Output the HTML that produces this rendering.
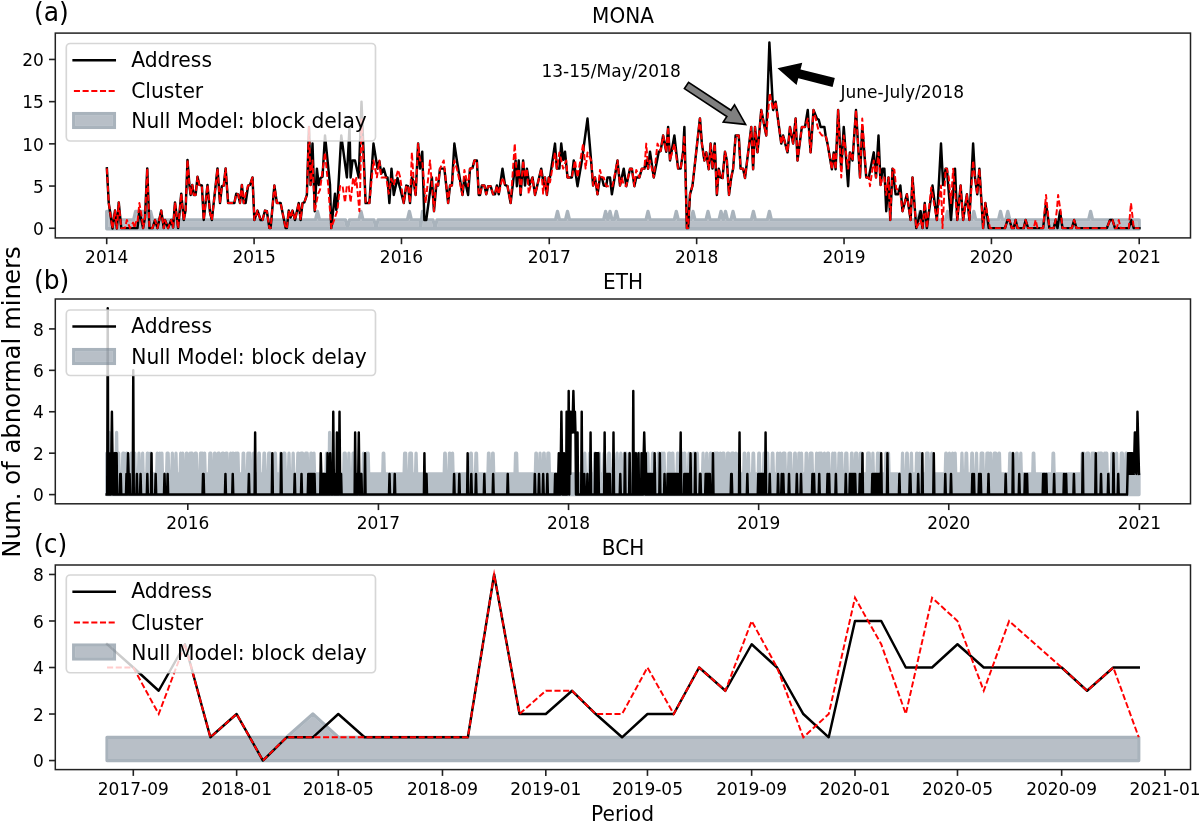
<!DOCTYPE html>
<html lang="en"><head><meta charset="utf-8"><title>Abnormal miners</title>
<style>html,body{margin:0;padding:0;background:#fff}svg{display:block}text{font-family:'DejaVu Sans','Liberation Sans',sans-serif;fill:#000}</style></head><body>
<svg width="1200" height="823" viewBox="0 0 1200 823">
<rect width="1200" height="823" fill="#fff"/>
<defs>
<clipPath id="ca"><rect x="55.3" y="33.1" width="1135.2" height="204.8"/></clipPath>
<clipPath id="cb"><rect x="55.3" y="299" width="1135.2" height="204.8"/></clipPath>
<clipPath id="cc"><rect x="55.3" y="565" width="1135.2" height="204.6"/></clipPath>
<filter id="soft" x="-2%" y="-20%" width="104%" height="140%"><feGaussianBlur stdDeviation="0.55"/></filter>
<filter id="softp" x="-20%" y="-30%" width="140%" height="160%"><feGaussianBlur stdDeviation="0.5"/></filter>
</defs>
<g id="panel-a">
<mask id="bm1" maskUnits="userSpaceOnUse" x="0" y="0" width="1200" height="823"><polygon points="106.7,228.75 106.7,211.37 110,211.37 112,219.81 133.6,219.81 135.6,211.37 150.6,211.37 152.6,219.81 315.5,219.81 317.5,211.37 319.5,219.81 345.5,219.81 347.5,228.25 349.5,219.81 359,219.81 361,211.37 363,219.81 374,219.81 376,228.25 378,219.81 407.4,219.81 409.4,211.37 411.4,219.81 418.6,219.81 420.5,219.81 420.6,228.25 422.5,211.37 422.6,219.81 424.5,219.81 433,219.81 435,228.25 437,219.81 555.5,219.81 557.5,211.37 559.5,219.81 565.5,219.81 567.5,211.37 569.5,219.81 603.6,219.81 605.6,211.37 607.6,219.81 608,219.81 610,211.37 612,219.81 614.3,219.81 616.3,211.37 618.3,219.81 646,219.81 648,211.37 650,219.81 674.3,219.81 676.3,211.37 678.3,219.81 691,219.81 693,211.37 695,219.81 706,219.81 708,211.37 710,219.81 719,219.81 721,211.37 723,219.81 723.5,219.81 725.5,211.37 727.5,219.81 731,219.81 733,211.37 735,219.81 751.4,219.81 753.4,211.37 755.4,219.81 767.4,219.81 769.4,211.37 771.4,219.81 918,219.81 920,211.37 922,219.81 945.5,219.81 947.5,211.37 949.5,219.81 971.8,219.81 973.8,211.37 975.8,219.81 998.5,219.81 1000.5,211.37 1002.5,219.81 1005.8,219.81 1007.8,211.37 1009.8,219.81 1088.6,219.81 1090.6,211.37 1092.6,219.81 1139.2,219.81 1139.2,228.75" fill="#fff" stroke="#000" stroke-width="3.28" stroke-linejoin="round"/></mask>
<g filter="url(#soft)"><polygon points="106.7,228.75 106.7,211.37 110,211.37 112,219.81 133.6,219.81 135.6,211.37 150.6,211.37 152.6,219.81 315.5,219.81 317.5,211.37 319.5,219.81 345.5,219.81 347.5,228.25 349.5,219.81 359,219.81 361,211.37 363,219.81 374,219.81 376,228.25 378,219.81 407.4,219.81 409.4,211.37 411.4,219.81 418.6,219.81 420.5,219.81 420.6,228.25 422.5,211.37 422.6,219.81 424.5,219.81 433,219.81 435,228.25 437,219.81 555.5,219.81 557.5,211.37 559.5,219.81 565.5,219.81 567.5,211.37 569.5,219.81 603.6,219.81 605.6,211.37 607.6,219.81 608,219.81 610,211.37 612,219.81 614.3,219.81 616.3,211.37 618.3,219.81 646,219.81 648,211.37 650,219.81 674.3,219.81 676.3,211.37 678.3,219.81 691,219.81 693,211.37 695,219.81 706,219.81 708,211.37 710,219.81 719,219.81 721,211.37 723,219.81 723.5,219.81 725.5,211.37 727.5,219.81 731,219.81 733,211.37 735,219.81 751.4,219.81 753.4,211.37 755.4,219.81 767.4,219.81 769.4,211.37 771.4,219.81 918,219.81 920,211.37 922,219.81 945.5,219.81 947.5,211.37 949.5,219.81 971.8,219.81 973.8,211.37 975.8,219.81 998.5,219.81 1000.5,211.37 1002.5,219.81 1005.8,219.81 1007.8,211.37 1009.8,219.81 1088.6,219.81 1090.6,211.37 1092.6,219.81 1139.2,219.81 1139.2,228.75" fill="#708090" fill-opacity="0.5" mask="url(#bm1)"/><polygon points="106.7,228.75 106.7,211.37 110,211.37 112,219.81 133.6,219.81 135.6,211.37 150.6,211.37 152.6,219.81 315.5,219.81 317.5,211.37 319.5,219.81 345.5,219.81 347.5,228.25 349.5,219.81 359,219.81 361,211.37 363,219.81 374,219.81 376,228.25 378,219.81 407.4,219.81 409.4,211.37 411.4,219.81 418.6,219.81 420.5,219.81 420.6,228.25 422.5,211.37 422.6,219.81 424.5,219.81 433,219.81 435,228.25 437,219.81 555.5,219.81 557.5,211.37 559.5,219.81 565.5,219.81 567.5,211.37 569.5,219.81 603.6,219.81 605.6,211.37 607.6,219.81 608,219.81 610,211.37 612,219.81 614.3,219.81 616.3,211.37 618.3,219.81 646,219.81 648,211.37 650,219.81 674.3,219.81 676.3,211.37 678.3,219.81 691,219.81 693,211.37 695,219.81 706,219.81 708,211.37 710,219.81 719,219.81 721,211.37 723,219.81 723.5,219.81 725.5,211.37 727.5,219.81 731,219.81 733,211.37 735,219.81 751.4,219.81 753.4,211.37 755.4,219.81 767.4,219.81 769.4,211.37 771.4,219.81 918,219.81 920,211.37 922,219.81 945.5,219.81 947.5,211.37 949.5,219.81 971.8,219.81 973.8,211.37 975.8,219.81 998.5,219.81 1000.5,211.37 1002.5,219.81 1005.8,219.81 1007.8,211.37 1009.8,219.81 1088.6,219.81 1090.6,211.37 1092.6,219.81 1139.2,219.81 1139.2,228.75" fill="none" stroke="#708090" stroke-opacity="0.6" stroke-width="3.28" stroke-linejoin="round"/></g>
<polyline clip-path="url(#ca)" points="106.88,168.39 108.75,203.08 112.5,228.5 115,210.59 116.88,228.5 118.75,202.45 121.25,228.12 137.5,228.12 139.38,210.59 143.12,228.12 145,217.48 147.25,168.39 149.38,228.12 152.5,228.12 155,219.99 157.5,228.12 161.25,210.59 163.75,228.12 165,219.99 168.12,228.12 171.25,219.99 173.12,227.5 175,202.45 178.12,228.12 181.25,193.69 183.75,219.99 185.62,209.97 187.5,159.88 189.38,184.92 190.62,194.94 192.25,184.92 193.75,194.94 195.62,194.94 197.5,176.78 199.38,184.92 201.88,185.55 203.75,219.99 207.5,184.92 210,212.47 211.88,219.99 217.5,168.39 220,203.08 221.88,186.18 223.75,185.55 225.62,168.39 228.12,203.08 234.38,203.08 236.25,193.69 238.12,194.31 240,203.08 241.88,184.92 243.75,203.08 245.62,203.08 248.12,185.55 249.88,184.92 250,184.92 252.5,177.41 254.38,219.99 257.5,210.59 260.62,219.99 262.5,219.99 265,210.59 266.88,211.22 269.38,228.12 270.62,228.12 274.38,185.55 276.88,203.08 280.62,203.08 285.62,228.12 286.88,228.12 288.75,210.59 290.62,217.48 292.5,210.59 295,219.99 298.75,203.08 300.62,219.99 302.5,203.08 304.38,202.45 306.88,194.94 309,126.94 310.62,184.92 312.5,143.6 314.75,211.22 316.88,168.64 318.75,184.92 320.62,178.04 322.5,176.78 325,135.46 330,184.92 331.25,228.12 335,193.69 336.25,209.97 337.5,202.45 341.25,135.46 346.88,177.41 349.5,126.94 350.62,177.41 352.5,160.5 355,160.5 358.75,177.41 361.5,101.65 365.62,203.08 369.38,203.08 373.5,143.6 377.5,168.64 379.38,161.13 381.25,173.65 383.75,168.64 386.25,177.41 387.5,177.41 389.38,203.08 391.5,168.64 393.75,194.94 397.5,178.04 399.88,187.43 400,187.43 403.75,203.08 406.25,185.55 408.12,186.18 410,203.08 411.88,177.41 413.75,182.42 415.62,194.94 418.12,143.6 420,168.64 422.25,151.74 424.38,219.99 426.25,219.99 431.88,177.41 434,211.22 436.25,185.55 438.12,185.55 440,168.64 444.38,168.64 448.12,203.08 450,185.55 451.88,185.55 454.38,143.6 456.88,160.5 462.5,194.94 464.38,178.04 468.12,194.94 470,168.64 472.5,168.02 474.38,160.5 476.88,160.5 478.75,194.94 480,194.94 481.88,185.55 484.38,185.55 486.25,194.31 488.12,186.18 490.62,186.18 493.12,194.31 495,194.31 496.88,185.55 498.75,194.31 502.5,168.64 505,184.92 507.5,186.18 510.62,203.08 515.62,160.5 516.88,186.18 518.75,160.5 520.62,194.94 523.12,160.5 525,185.55 526.88,168.64 529.38,184.92 532.5,177.41 535,194.94 541.25,168.64 543.75,184.92 545,177.41 546.88,194.94 548.75,177.41 549.88,177.41 550,177.41 555,143.6 556.88,168.64 559.38,168.64 561.25,143.6 563.12,159.88 565,151.74 567.5,177.41 571.88,177.41 573.75,160.5 577.5,186.18 581.88,160.5 587.5,118.56 590,147.36 593.12,185.55 595,177.41 597.5,194.31 600,177.41 601.88,177.41 603.75,185.55 606.25,186.18 607.5,177.41 610,177.41 611.88,194.31 617.5,160.5 620,185.55 623.75,168.64 626.25,186.18 630,168.64 631.88,168.64 634.38,186.18 636.25,177.41 639.38,177.41 641.88,168.64 644.38,168.64 646.25,160.5 648.12,168.64 650,151.74 653.75,177.41 658.75,151.74 660.62,151.11 663.12,135.46 666.25,151.74 668.12,126.94 670,160.5 674.38,135.46 678.12,168.64 680.62,168.64 683.12,151.74 684.38,126.94 686.88,228.12 688.12,228.12 690,194.31 692.5,185.55 699.88,118.56 700,118.56 701.88,143.6 704.38,160.5 706.25,152.37 708.75,169.27 710.62,143.6 712.5,168.64 714.75,143.6 716.88,194.94 718.75,168.64 720.62,177.41 722.5,178.04 725,151.74 726.88,160.5 729,194.94 731.25,177.41 733.12,168.64 735.62,135.46 738.75,135.46 740.62,168.64 743.12,168.64 745,178.04 751.25,126.94 753.12,169.27 755,126.94 757.5,152.37 761.25,110.04 766.25,135.46 769.38,42.54 773.12,110.04 775.62,101.65 781.25,143.6 783.12,135.46 787.5,152.37 790,126.94 793.12,143.6 795.62,118.56 797.5,160.5 801.88,126.94 805,126.94 807.75,110.04 810.62,152.37 813.5,110.04 816.88,118.56 818.75,119.81 820.62,126.94 824.38,126.94 825.62,135.46 827.5,143.6 831.88,169.27 833.75,152.37 835.62,169.27 838.12,110.04 841.25,168.64 843.75,126.94 848.12,186.18 849.88,152.37 850,152.37 852.5,160.5 856,110.04 860,177.41 862.25,126.94 866.25,177.41 868.75,177.41 873.75,152.37 876,177.41 878.5,135.46 880.62,184.92 882.5,168.64 884.38,168.64 886.25,211.22 888.5,177.41 890.25,219.99 892.5,168.64 895.62,194.31 898.12,194.31 900.38,185.55 902.5,211.22 906.88,194.31 910.62,219.99 912.5,177.41 916.25,228.12 920.62,211.22 922.5,228.12 924.75,203.08 926.88,228.12 932.5,185.55 936.88,219.99 941,143.6 943.12,184.92 945.62,168.64 946.88,168.64 951,219.99 955,168.64 957.25,219.99 960.62,185.55 963.12,219.99 966.88,194.31 969.38,219.99 973.12,143.6 975,177.41 977.25,194.31 979.38,168.64 983.12,228.12 985.38,203.08 988.75,228.12 999.88,228.12 1000,228.12 1005,228.12 1007.5,219.99 1009.38,219.99 1011.88,228.12 1013.75,228.12 1015.62,219.99 1017.5,228.12 1023.75,228.12 1025.62,219.99 1028.12,228.12 1043.12,228.12 1046,203.08 1049.38,228.12 1053.75,228.12 1055.62,219.99 1057.5,228.12 1060,211.22 1062.5,228.12 1071.88,228.12 1074.12,219.99 1076.5,228.12 1106.88,228.12 1110,219.99 1112.5,219.99 1115,228.12 1128.75,228.12 1131.25,219.99 1133.75,228.12 1139.38,228.12" fill="none" stroke="#000" stroke-width="2.46" stroke-linejoin="round" stroke-linecap="square"/>
<polyline clip-path="url(#ca)" points="106.88,168.39 108.75,203.08 112.5,228.5 115,210.59 116.88,228.5 118.75,202.45 121.25,228.12 125,228.12 126.88,219.99 130,228.12 133.12,222.49 134.38,228.12 136.25,221.24 137.5,222.49 139.38,203.08 141.88,217.48 143.12,228.12 145,217.48 147.25,168.39 149.38,228.12 152.5,228.12 155,219.99 157.5,228.12 161.25,210.59 163.75,228.12 165,219.99 168.12,228.12 171.25,219.99 173.12,227.5 175,202.45 178.12,228.12 181.25,193.69 183.75,219.99 185.62,209.97 187.5,159.88 189.38,184.92 190.62,194.94 192.25,184.92 193.75,194.94 195.62,194.94 197.5,176.78 199.38,184.92 201.88,185.55 203.75,219.99 207.5,184.92 210,212.47 211.88,219.99 217.5,168.39 220,203.08 221.88,186.18 223.75,185.55 225.62,168.39 228.12,203.08 234.38,203.08 236.25,193.69 238.12,194.31 240,203.08 241.88,184.92 243.75,203.08 245.62,193.69 248.12,185.55 249.88,184.92 250,184.92 252.5,177.41 254.38,219.99 257.5,210.59 260.62,219.99 262.5,219.99 265,210.59 266.88,211.22 269.38,228.12 270.62,228.12 274.38,185.55 276.88,203.08 280.62,203.08 285.62,228.12 286.88,228.12 288.75,210.59 290.62,217.48 292.5,210.59 295,219.99 298.75,203.08 300.62,219.99 302.5,203.08 304.38,202.45 306.88,194.94 309,126.94 310.62,184.92 312.5,160.5 314.75,211.22 318.12,193.69 320,189.93 325,152.37 328.12,184.92 331.25,228.12 335,217.48 337.5,209.97 340,186.18 342.5,185.55 345,202.45 346.88,185.55 348.75,186.18 350.62,202.45 353.12,177.41 355,184.92 356.25,178.04 357.5,191.18 359.38,211.22 360.25,184.92 361.5,118.56 365.62,203.08 369.38,203.08 373.5,160.5 376.88,177.41 379.38,160.5 381.25,177.41 384.38,177.41 386.25,177.41 388.75,193.69 391.25,178.66 393.75,184.92 398.12,169.9 399.88,176.16 400,176.16 403.75,203.08 406.25,185.55 408.12,186.18 410,203.08 411.88,152.37 413.75,182.42 415.62,194.94 418.12,143.6 420,160.5 422.25,160.5 425.62,203.08 430,160.5 434,211.22 436.25,177.41 438.12,185.55 440,168.64 443.75,160.5 448.12,203.08 450,185.55 451.88,185.55 454.38,160.5 456.88,168.64 462.5,194.94 464.38,169.9 468.12,186.18 470,168.64 472.5,168.02 474.38,160.5 476.88,160.5 478.75,194.94 480,194.94 481.88,185.55 484.38,185.55 486.25,194.31 488.12,186.18 490.62,186.18 493.12,194.31 495,194.31 496.88,185.55 498.75,194.31 502.5,177.41 505,184.92 507.5,186.18 510.62,203.08 514.75,143.6 516.88,177.41 518.75,168.64 520.62,194.94 523.12,160.5 525,177.41 526.88,168.64 528.75,193.69 532.5,177.41 535,194.94 541.25,168.64 543.12,193.69 545,177.41 546.88,194.94 548.75,177.41 549.88,182.42 550,182.42 555,152.37 556.88,168.64 559.38,152.37 561.25,160.5 563.12,168.64 566.25,160.5 567.5,177.41 571.88,177.41 575,160.5 577.5,177.41 583.12,143.6 585.62,168.64 587.5,152.37 591.25,160.5 593.12,185.55 595,177.41 597.5,194.31 600,169.9 601.88,177.41 603.75,177.41 606.25,186.18 610,186.18 612.5,186.18 617.5,160.5 620,185.55 621.88,177.41 623.75,184.92 626.25,186.18 630,168.64 631.88,168.64 634.38,186.18 636.25,169.9 639.38,177.41 641.88,168.64 644.38,168.64 646.25,143.6 648.12,168.64 650,160.5 653.75,177.41 657.5,143.6 660.62,151.11 663.12,135.46 666.25,151.74 668.12,126.94 670,160.5 674.38,143.6 678.12,168.64 680.62,168.64 683.12,151.74 684.38,135.46 686.88,228.12 688.12,228.12 690,194.31 692.5,185.55 699.88,118.56 700,118.56 701.88,143.6 704.38,160.5 706.25,152.37 708.75,169.27 710.62,143.6 712.5,168.64 714.75,143.6 716.88,194.94 718.75,168.64 720.62,177.41 722.5,178.04 725,151.74 726.88,160.5 729,194.94 731.25,177.41 733.12,168.64 735.62,135.46 738.75,135.46 740.62,168.64 743.12,168.64 745,178.04 751.25,126.94 753.12,169.27 755,126.94 757.5,152.37 761.25,110.04 766.25,135.46 769.75,93.26 773.12,110.04 775.62,101.65 781.25,143.6 783.12,135.46 787.5,152.37 790,126.94 793.12,143.6 795.62,118.56 797.5,160.5 801.88,126.94 805,126.94 807.75,118.56 810.62,152.37 813.5,110.04 818.75,131.08 821.88,135.46 825.62,135.46 827.5,143.6 831.88,169.27 833.75,152.37 835.62,169.27 838.12,110.04 841.25,177.41 843.75,135.46 848.12,168.64 849.88,152.37 850,152.37 852.5,160.5 856,110.04 860,177.41 862.25,118.56 866.25,177.41 868.75,177.41 870,186.18 873.75,160.5 876,177.41 878.5,152.37 880.62,184.92 882.5,177.41 884.38,177.41 886.25,194.94 888.5,177.41 890.25,219.99 892.5,168.64 894.38,169.9 896.25,188.68 898.12,189.93 900.38,193.69 902.5,211.22 906.88,194.31 910.62,219.99 912.5,177.41 916.25,228.12 920.62,219.99 922.5,228.12 924.75,203.08 926.88,228.12 931.25,187.43 936.88,219.99 941,185.55 942.5,228.12 945.62,168.64 946.88,168.64 948.75,177.41 951,203.08 953.12,168.64 957.25,219.99 960.62,185.55 963.12,219.99 966.88,194.31 969.38,219.99 973.12,160.5 975,177.41 977.25,194.31 979.38,168.64 983.12,228.12 985.38,203.08 990,228.12 999.88,228.12 1000,228.12 1005,228.12 1007.5,219.99 1009.38,219.99 1011.88,228.12 1013.75,228.12 1015.62,219.99 1017.5,228.12 1023.75,228.12 1025.62,219.99 1028.12,228.12 1033.75,228.12 1035.62,219.99 1037.5,228.12 1043.12,228.12 1046,194.94 1049.38,228.12 1053.75,228.12 1055.62,219.99 1056.88,209.97 1058.12,194.94 1060.62,211.22 1062.5,228.12 1071.88,228.12 1074.12,219.99 1076.5,228.12 1106.88,228.12 1110,219.99 1112.5,219.99 1115,228.12 1116.88,228.12 1118.75,219.99 1120.62,228.12 1128.75,228.12 1131,203.08 1133.75,228.12 1139.38,228.12" fill="none" stroke="#f00" stroke-width="1.95" stroke-linejoin="round" stroke-miterlimit="6" stroke-dasharray="6.07 2.62"/>
<rect x="55.3" y="33.1" width="1135.2" height="204.8" fill="none" stroke="#222" stroke-width="1.5"/>
<line x1="106.7" y1="237.9" x2="106.7" y2="244.2" stroke="#222" stroke-width="1.6"/>
<text transform="translate(106.7 262.9) scale(1 1.05)" text-anchor="middle" font-size="17">2014</text>
<line x1="254.09" y1="237.9" x2="254.09" y2="244.2" stroke="#222" stroke-width="1.6"/>
<text transform="translate(254.09 262.9) scale(1 1.05)" text-anchor="middle" font-size="17">2015</text>
<line x1="401.47" y1="237.9" x2="401.47" y2="244.2" stroke="#222" stroke-width="1.6"/>
<text transform="translate(401.47 262.9) scale(1 1.05)" text-anchor="middle" font-size="17">2016</text>
<line x1="549.26" y1="237.9" x2="549.26" y2="244.2" stroke="#222" stroke-width="1.6"/>
<text transform="translate(549.26 262.9) scale(1 1.05)" text-anchor="middle" font-size="17">2017</text>
<line x1="696.65" y1="237.9" x2="696.65" y2="244.2" stroke="#222" stroke-width="1.6"/>
<text transform="translate(696.65 262.9) scale(1 1.05)" text-anchor="middle" font-size="17">2018</text>
<line x1="844.04" y1="237.9" x2="844.04" y2="244.2" stroke="#222" stroke-width="1.6"/>
<text transform="translate(844.04 262.9) scale(1 1.05)" text-anchor="middle" font-size="17">2019</text>
<line x1="991.43" y1="237.9" x2="991.43" y2="244.2" stroke="#222" stroke-width="1.6"/>
<text transform="translate(991.43 262.9) scale(1 1.05)" text-anchor="middle" font-size="17">2020</text>
<line x1="1139.22" y1="237.9" x2="1139.22" y2="244.2" stroke="#222" stroke-width="1.6"/>
<text transform="translate(1139.22 262.9) scale(1 1.05)" text-anchor="middle" font-size="17">2021</text>
<line x1="49" y1="228.25" x2="55.3" y2="228.25" stroke="#222" stroke-width="1.6"/>
<text transform="translate(43.8 234.95) scale(1 1.05)" text-anchor="end" font-size="17">0</text>
<line x1="49" y1="186.05" x2="55.3" y2="186.05" stroke="#222" stroke-width="1.6"/>
<text transform="translate(43.8 192.75) scale(1 1.05)" text-anchor="end" font-size="17">5</text>
<line x1="49" y1="143.85" x2="55.3" y2="143.85" stroke="#222" stroke-width="1.6"/>
<text transform="translate(43.8 150.55) scale(1 1.05)" text-anchor="end" font-size="17">10</text>
<line x1="49" y1="101.65" x2="55.3" y2="101.65" stroke="#222" stroke-width="1.6"/>
<text transform="translate(43.8 108.35) scale(1 1.05)" text-anchor="end" font-size="17">15</text>
<line x1="49" y1="59.45" x2="55.3" y2="59.45" stroke="#222" stroke-width="1.6"/>
<text transform="translate(43.8 66.15) scale(1 1.05)" text-anchor="end" font-size="17">20</text>
<text transform="translate(623 23) scale(1 1.03)" text-anchor="middle" font-size="20.05">MONA</text>
<text transform="translate(34 21.2) scale(1 1.03)" font-size="25">(a)</text>
<rect x="66.3" y="43.5" width="309.2" height="97.5" rx="3.9" ry="3.9" fill="#fff" fill-opacity="0.8" stroke="#ccc" stroke-opacity="0.8" stroke-width="1.64"/>
<line x1="73.6" y1="60.2" x2="114.8" y2="60.2" stroke="#000" stroke-width="2.46" stroke-linecap="square"/>
<text transform="translate(131.2 66.9) scale(1 1.03)" font-size="20.3">Address</text>
<line x1="73.9" y1="90.9" x2="114.8" y2="90.9" stroke="#f00" stroke-width="1.95" stroke-dasharray="6.07 2.62"/>
<text transform="translate(131.2 98) scale(1 1.03)" font-size="20.3">Cluster</text>
<g filter="url(#softp)"><rect x="75.34" y="115.24" width="37.42" height="10.52" fill="#708090" fill-opacity="0.5"/><rect x="73.7" y="113.6" width="40.7" height="13.8" fill="none" stroke="#708090" stroke-opacity="0.6" stroke-width="3.28"/></g>
<text transform="translate(131.2 128.2) scale(1 1.03)" font-size="20.3">Null Model: block delay</text>
<text transform="translate(541.5 76.9) scale(1 1.05)" font-size="17">13-15/May/2018</text>
<text transform="translate(840.4 97.6) scale(1 1.05)" font-size="17">June-July/2018</text>
<polygon points="684.44,88.63 726.83,116.54 723.26,121.97 745.6,124.4 734.53,104.84 730.96,110.27 688.56,82.37" fill="#808080" stroke="#000" stroke-width="1.64" stroke-linejoin="miter"/>
<polygon points="833.81,78.66 799.51,70.04 801.1,63.74 779.2,68.8 796.1,83.62 797.68,77.31 831.99,85.94" fill="#000" stroke="#000" stroke-width="1.64" stroke-linejoin="miter"/>
</g>
<g id="panel-b">
<g opacity="0.5" filter="url(#soft)"><polygon points="106.7,494.6 106.7,453.18 107.22,453.18 107.74,473.89 108.26,473.89 108.78,473.89 109.3,432.47 109.83,473.89 110.35,473.89 110.87,453.18 111.39,453.18 111.91,473.89 112.43,473.89 112.95,473.89 113.47,473.89 113.99,453.18 114.51,473.89 115.03,473.89 115.55,473.89 116.08,473.89 116.6,432.47 117.12,473.89 117.64,473.89 118.16,473.89 118.68,453.18 119.2,473.89 119.72,473.89 120.24,473.89 120.76,473.89 121.28,473.89 121.8,473.89 122.33,473.89 122.85,453.18 123.37,453.18 123.89,453.18 124.41,473.89 124.93,473.89 125.45,473.89 125.97,473.89 126.49,453.18 127.01,453.18 127.53,453.18 128.05,473.89 128.58,473.89 129.1,473.89 129.62,473.89 130.14,473.89 130.66,473.89 131.18,453.18 131.7,473.89 132.22,473.89 132.74,473.89 133.26,473.89 133.78,473.89 134.31,453.18 134.83,453.18 135.35,473.89 135.87,473.89 136.39,473.89 136.91,473.89 137.43,473.89 137.95,473.89 138.47,473.89 138.99,453.18 139.51,473.89 140.03,473.89 140.56,473.89 141.08,473.89 141.6,473.89 142.12,473.89 142.64,453.18 143.16,473.89 143.68,473.89 144.2,473.89 144.72,473.89 145.24,473.89 145.76,473.89 146.28,473.89 146.81,473.89 147.33,453.18 147.85,453.18 148.37,473.89 148.89,473.89 149.41,473.89 149.93,473.89 150.45,453.18 150.97,453.18 151.49,473.89 152.01,473.89 152.53,473.89 153.06,473.89 153.58,473.89 154.1,473.89 154.62,473.89 155.14,473.89 155.66,473.89 156.18,473.89 156.7,473.89 157.22,453.18 157.74,473.89 158.26,473.89 158.78,473.89 159.31,473.89 159.83,453.18 160.35,473.89 160.87,473.89 161.39,473.89 161.91,453.18 162.43,473.89 162.95,473.89 163.47,473.89 163.99,473.89 164.51,473.89 165.04,473.89 165.56,473.89 166.08,473.89 166.6,473.89 167.12,453.18 167.64,453.18 168.16,453.18 168.68,473.89 169.2,473.89 169.72,473.89 170.24,473.89 170.76,473.89 171.29,473.89 171.81,473.89 172.33,453.18 172.85,473.89 173.37,473.89 173.89,473.89 174.41,473.89 174.93,473.89 175.45,473.89 175.97,453.18 176.49,473.89 177.01,473.89 177.54,473.89 178.06,473.89 178.58,473.89 179.1,473.89 179.62,473.89 180.14,473.89 180.66,453.18 181.18,473.89 181.7,473.89 182.22,473.89 182.74,453.18 183.26,473.89 183.79,473.89 184.31,473.89 184.83,473.89 185.35,473.89 185.87,473.89 186.39,453.18 186.91,453.18 187.43,473.89 187.95,473.89 188.47,473.89 188.99,473.89 189.52,473.89 190.04,453.18 190.56,473.89 191.08,453.18 191.6,453.18 192.12,453.18 192.64,473.89 193.16,473.89 193.68,473.89 194.2,473.89 194.72,473.89 195.24,453.18 195.77,453.18 196.29,453.18 196.81,473.89 197.33,473.89 197.85,473.89 198.37,473.89 198.89,473.89 199.41,473.89 199.93,473.89 200.45,453.18 200.97,453.18 201.49,453.18 202.02,473.89 202.54,453.18 203.06,473.89 203.58,473.89 204.1,473.89 204.62,453.18 205.14,473.89 205.66,473.89 206.18,473.89 206.7,473.89 207.22,473.89 207.74,473.89 208.27,473.89 208.79,473.89 209.31,473.89 209.83,453.18 210.35,453.18 210.87,453.18 211.39,473.89 211.91,473.89 212.43,473.89 212.95,473.89 213.47,473.89 214,473.89 214.52,453.18 215.04,453.18 215.56,473.89 216.08,473.89 216.6,473.89 217.12,473.89 217.64,473.89 218.16,453.18 218.68,453.18 219.2,453.18 219.72,473.89 220.25,473.89 220.77,473.89 221.29,473.89 221.81,473.89 222.33,453.18 222.85,453.18 223.37,453.18 223.89,473.89 224.41,473.89 224.93,473.89 225.45,473.89 225.97,453.18 226.5,453.18 227.02,453.18 227.54,473.89 228.06,473.89 228.58,473.89 229.1,473.89 229.62,473.89 230.14,473.89 230.66,453.18 231.18,473.89 231.7,473.89 232.22,473.89 232.75,453.18 233.27,453.18 233.79,473.89 234.31,473.89 234.83,473.89 235.35,473.89 235.87,453.18 236.39,473.89 236.91,473.89 237.43,453.18 237.95,453.18 238.48,473.89 239,473.89 239.52,473.89 240.04,473.89 240.56,473.89 241.08,473.89 241.6,473.89 242.12,473.89 242.64,473.89 243.16,453.18 243.68,453.18 244.2,473.89 244.73,473.89 245.25,473.89 245.77,473.89 246.29,473.89 246.81,473.89 247.33,473.89 247.85,453.18 248.37,453.18 248.89,473.89 249.41,473.89 249.93,453.18 250.45,473.89 250.98,473.89 251.5,473.89 252.02,473.89 252.54,473.89 253.06,473.89 253.58,453.18 254.1,473.89 254.62,473.89 255.14,473.89 255.66,473.89 256.18,473.89 256.7,473.89 257.23,473.89 257.75,473.89 258.27,473.89 258.79,453.18 259.31,453.18 259.83,473.89 260.35,473.89 260.87,473.89 261.39,473.89 261.91,473.89 262.43,473.89 262.96,473.89 263.48,473.89 264,453.18 264.52,453.18 265.04,473.89 265.56,473.89 266.08,473.89 266.6,473.89 267.12,473.89 267.64,473.89 268.16,473.89 268.68,453.18 269.21,453.18 269.73,453.18 270.25,453.18 270.77,473.89 271.29,473.89 271.81,473.89 272.33,473.89 272.85,473.89 273.37,473.89 273.89,473.89 274.41,473.89 274.93,453.18 275.46,453.18 275.98,473.89 276.5,473.89 277.02,473.89 277.54,473.89 278.06,473.89 278.58,473.89 279.1,473.89 279.62,473.89 280.14,473.89 280.66,453.18 281.18,473.89 281.71,473.89 282.23,473.89 282.75,473.89 283.27,473.89 283.79,453.18 284.31,453.18 284.83,453.18 285.35,473.89 285.87,473.89 286.39,473.89 286.91,473.89 287.43,473.89 287.96,473.89 288.48,473.89 289,453.18 289.52,473.89 290.04,473.89 290.56,473.89 291.08,473.89 291.6,473.89 292.12,473.89 292.64,473.89 293.16,453.18 293.69,473.89 294.21,473.89 294.73,473.89 295.25,473.89 295.77,473.89 296.29,473.89 296.81,473.89 297.33,473.89 297.85,453.18 298.37,453.18 298.89,473.89 299.41,473.89 299.94,473.89 300.46,473.89 300.98,453.18 301.5,453.18 302.02,453.18 302.54,453.18 303.06,473.89 303.58,473.89 304.1,473.89 304.62,473.89 305.14,473.89 305.66,453.18 306.19,453.18 306.71,453.18 307.23,453.18 307.75,473.89 308.27,473.89 308.79,473.89 309.31,473.89 309.83,473.89 310.35,473.89 310.87,453.18 311.39,453.18 311.91,473.89 312.44,473.89 312.96,473.89 313.48,473.89 314,453.18 314.52,473.89 315.04,473.89 315.56,473.89 316.08,473.89 316.6,473.89 317.12,473.89 317.64,473.89 318.17,473.89 318.69,473.89 319.21,473.89 319.73,473.89 320.25,473.89 320.77,473.89 321.29,473.89 321.81,473.89 322.33,473.89 322.85,473.89 323.37,473.89 323.89,473.89 324.42,473.89 324.94,473.89 325.46,473.89 325.98,473.89 326.5,453.18 327.02,453.18 327.54,453.18 328.06,453.18 328.58,473.89 329.1,473.89 329.62,432.47 330.14,473.89 330.67,473.89 331.19,453.18 331.71,473.89 332.23,473.89 332.75,473.89 333.27,473.89 333.79,473.89 334.31,473.89 334.83,473.89 335.35,473.89 335.87,473.89 336.39,473.89 336.92,473.89 337.44,473.89 337.96,473.89 338.48,473.89 339,473.89 339.52,473.89 340.04,473.89 340.56,473.89 341.08,473.89 341.6,473.89 342.12,473.89 342.65,473.89 343.17,473.89 343.69,473.89 344.21,453.18 344.73,453.18 345.25,453.18 345.77,473.89 346.29,473.89 346.81,473.89 347.33,473.89 347.85,473.89 348.37,473.89 348.9,453.18 349.42,473.89 349.94,473.89 350.46,473.89 350.98,473.89 351.5,473.89 352.02,473.89 352.54,473.89 353.06,453.18 353.58,453.18 354.1,453.18 354.62,473.89 355.15,473.89 355.67,473.89 356.19,473.89 356.71,473.89 357.23,473.89 357.75,473.89 358.27,473.89 358.79,473.89 359.31,473.89 359.83,473.89 360.35,473.89 360.87,473.89 361.4,473.89 361.92,473.89 362.44,473.89 362.96,473.89 363.48,453.18 364,473.89 364.52,473.89 365.04,473.89 365.56,473.89 366.08,473.89 366.6,453.18 367.12,453.18 367.65,473.89 368.17,453.18 368.69,473.89 369.21,473.89 369.73,473.89 370.25,473.89 370.77,473.89 371.29,473.89 371.81,473.89 372.33,473.89 372.85,473.89 373.38,473.89 373.9,473.89 374.42,473.89 374.94,473.89 375.46,473.89 375.98,473.89 376.5,473.89 377.02,473.89 377.54,473.89 378.06,473.89 378.58,473.89 379.1,473.89 379.63,473.89 380.15,473.89 380.67,473.89 381.19,473.89 381.71,473.89 382.23,473.89 382.75,473.89 383.27,453.18 383.79,453.18 384.31,473.89 384.83,473.89 385.35,473.89 385.88,473.89 386.4,473.89 386.92,473.89 387.44,473.89 387.96,473.89 388.48,473.89 389,473.89 389.52,473.89 390.04,473.89 390.56,473.89 391.08,473.89 391.6,473.89 392.13,473.89 392.65,473.89 393.17,473.89 393.69,473.89 394.21,473.89 394.73,473.89 395.25,473.89 395.77,473.89 396.29,473.89 396.81,473.89 397.33,473.89 397.86,473.89 398.38,473.89 398.9,473.89 399.42,473.89 399.94,473.89 400.46,473.89 400.98,473.89 401.5,473.89 402.02,473.89 402.54,473.89 403.06,473.89 403.58,473.89 404.11,473.89 404.63,453.18 405.15,473.89 405.67,453.18 406.19,473.89 406.71,473.89 407.23,473.89 407.75,473.89 408.27,473.89 408.79,473.89 409.31,473.89 409.83,453.18 410.36,453.18 410.88,453.18 411.4,453.18 411.92,473.89 412.44,473.89 412.96,473.89 413.48,473.89 414,473.89 414.52,473.89 415.04,473.89 415.56,473.89 416.08,453.18 416.61,473.89 417.13,473.89 417.65,473.89 418.17,473.89 418.69,473.89 419.21,473.89 419.73,473.89 420.25,473.89 420.77,473.89 421.29,473.89 421.81,473.89 422.34,473.89 422.86,473.89 423.38,473.89 423.9,473.89 424.42,473.89 424.94,473.89 425.46,473.89 425.98,473.89 426.5,473.89 427.02,473.89 427.54,473.89 428.06,473.89 428.59,473.89 429.11,473.89 429.63,473.89 430.15,473.89 430.67,473.89 431.19,473.89 431.71,473.89 432.23,473.89 432.75,473.89 433.27,473.89 433.79,473.89 434.31,473.89 434.84,473.89 435.36,473.89 435.88,473.89 436.4,473.89 436.92,473.89 437.44,473.89 437.96,473.89 438.48,473.89 439,473.89 439.52,473.89 440.04,473.89 440.56,473.89 441.09,473.89 441.61,473.89 442.13,473.89 442.65,473.89 443.17,473.89 443.69,473.89 444.21,473.89 444.73,453.18 445.25,453.18 445.77,473.89 446.29,473.89 446.82,473.89 447.34,473.89 447.86,473.89 448.38,473.89 448.9,473.89 449.42,453.18 449.94,453.18 450.46,473.89 450.98,473.89 451.5,473.89 452.02,473.89 452.54,453.18 453.07,473.89 453.59,473.89 454.11,473.89 454.63,473.89 455.15,473.89 455.67,473.89 456.19,473.89 456.71,473.89 457.23,473.89 457.75,473.89 458.27,473.89 458.79,473.89 459.32,473.89 459.84,473.89 460.36,473.89 460.88,473.89 461.4,473.89 461.92,473.89 462.44,473.89 462.96,473.89 463.48,473.89 464,473.89 464.52,473.89 465.04,473.89 465.57,473.89 466.09,473.89 466.61,473.89 467.13,473.89 467.65,473.89 468.17,473.89 468.69,473.89 469.21,473.89 469.73,473.89 470.25,473.89 470.77,453.18 471.3,453.18 471.82,473.89 472.34,473.89 472.86,473.89 473.38,473.89 473.9,473.89 474.42,473.89 474.94,473.89 475.46,473.89 475.98,453.18 476.5,453.18 477.02,473.89 477.55,473.89 478.07,473.89 478.59,473.89 479.11,473.89 479.63,473.89 480.15,473.89 480.67,473.89 481.19,473.89 481.71,473.89 482.23,473.89 482.75,473.89 483.27,473.89 483.8,473.89 484.32,473.89 484.84,473.89 485.36,473.89 485.88,473.89 486.4,473.89 486.92,473.89 487.44,473.89 487.96,473.89 488.48,453.18 489,453.18 489.52,473.89 490.05,473.89 490.57,473.89 491.09,473.89 491.61,473.89 492.13,473.89 492.65,453.18 493.17,453.18 493.69,473.89 494.21,473.89 494.73,473.89 495.25,473.89 495.77,473.89 496.3,473.89 496.82,473.89 497.34,473.89 497.86,473.89 498.38,473.89 498.9,473.89 499.42,473.89 499.94,473.89 500.46,473.89 500.98,473.89 501.5,473.89 502.03,473.89 502.55,473.89 503.07,473.89 503.59,473.89 504.11,473.89 504.63,473.89 505.15,473.89 505.67,473.89 506.19,473.89 506.71,473.89 507.23,473.89 507.75,473.89 508.28,473.89 508.8,473.89 509.32,473.89 509.84,473.89 510.36,473.89 510.88,473.89 511.4,473.89 511.92,473.89 512.44,473.89 512.96,473.89 513.48,473.89 514,473.89 514.53,473.89 515.05,473.89 515.57,453.18 516.09,453.18 516.61,453.18 517.13,473.89 517.65,473.89 518.17,473.89 518.69,473.89 519.21,473.89 519.73,473.89 520.25,473.89 520.78,473.89 521.3,473.89 521.82,473.89 522.34,473.89 522.86,473.89 523.38,473.89 523.9,473.89 524.42,473.89 524.94,473.89 525.46,473.89 525.98,473.89 526.51,473.89 527.03,473.89 527.55,473.89 528.07,473.89 528.59,473.89 529.11,473.89 529.63,473.89 530.15,473.89 530.67,473.89 531.19,473.89 531.71,473.89 532.23,473.89 532.76,473.89 533.28,473.89 533.8,473.89 534.32,473.89 534.84,473.89 535.36,473.89 535.88,453.18 536.4,453.18 536.92,473.89 537.44,473.89 537.96,473.89 538.48,473.89 539.01,473.89 539.53,473.89 540.05,453.18 540.57,473.89 541.09,473.89 541.61,473.89 542.13,473.89 542.65,473.89 543.17,473.89 543.69,453.18 544.21,453.18 544.73,473.89 545.26,473.89 545.78,473.89 546.3,473.89 546.82,473.89 547.34,473.89 547.86,453.18 548.38,453.18 548.9,453.18 549.42,473.89 549.94,473.89 550.46,473.89 550.99,473.89 551.51,473.89 552.03,473.89 552.55,473.89 553.07,473.89 553.59,473.89 554.11,473.89 554.63,473.89 555.15,473.89 555.67,473.89 556.19,473.89 556.71,473.89 557.24,473.89 557.76,473.89 558.28,473.89 558.8,473.89 559.32,473.89 559.84,473.89 560.36,473.89 560.88,473.89 561.4,473.89 561.92,473.89 562.44,473.89 562.96,473.89 563.49,473.89 564.01,473.89 564.53,473.89 565.05,473.89 565.57,473.89 566.09,473.89 566.61,473.89 567.13,473.89 567.65,473.89 568.17,473.89 568.69,473.89 569.21,473.89 569.74,473.89 570.26,473.89 570.78,473.89 571.3,473.89 571.82,473.89 572.34,473.89 572.86,473.89 573.38,473.89 573.9,473.89 574.42,473.89 574.94,473.89 575.47,473.89 575.99,473.89 576.51,473.89 577.03,473.89 577.55,473.89 578.07,473.89 578.59,473.89 579.11,473.89 579.63,473.89 580.15,473.89 580.67,473.89 581.19,473.89 581.72,473.89 582.24,473.89 582.76,473.89 583.28,473.89 583.8,473.89 584.32,473.89 584.84,453.18 585.36,473.89 585.88,473.89 586.4,473.89 586.92,473.89 587.44,473.89 587.97,473.89 588.49,473.89 589.01,473.89 589.53,453.18 590.05,453.18 590.57,473.89 591.09,473.89 591.61,473.89 592.13,473.89 592.65,473.89 593.17,473.89 593.69,473.89 594.22,473.89 594.74,453.18 595.26,453.18 595.78,473.89 596.3,473.89 596.82,473.89 597.34,473.89 597.86,473.89 598.38,473.89 598.9,453.18 599.42,453.18 599.94,473.89 600.47,473.89 600.99,473.89 601.51,473.89 602.03,473.89 602.55,473.89 603.07,473.89 603.59,473.89 604.11,453.18 604.63,453.18 605.15,473.89 605.67,473.89 606.2,473.89 606.72,473.89 607.24,473.89 607.76,473.89 608.28,473.89 608.8,453.18 609.32,453.18 609.84,473.89 610.36,473.89 610.88,473.89 611.4,473.89 611.92,473.89 612.45,473.89 612.97,473.89 613.49,453.18 614.01,473.89 614.53,473.89 615.05,473.89 615.57,473.89 616.09,473.89 616.61,473.89 617.13,453.18 617.65,473.89 618.17,473.89 618.7,473.89 619.22,473.89 619.74,473.89 620.26,473.89 620.78,453.18 621.3,473.89 621.82,473.89 622.34,473.89 622.86,473.89 623.38,473.89 623.9,473.89 624.42,453.18 624.95,453.18 625.47,453.18 625.99,453.18 626.51,473.89 627.03,473.89 627.55,473.89 628.07,473.89 628.59,473.89 629.11,473.89 629.63,453.18 630.15,473.89 630.68,473.89 631.2,473.89 631.72,473.89 632.24,473.89 632.76,473.89 633.28,473.89 633.8,473.89 634.32,453.18 634.84,453.18 635.36,453.18 635.88,473.89 636.4,473.89 636.93,473.89 637.45,473.89 637.97,473.89 638.49,473.89 639.01,453.18 639.53,453.18 640.05,473.89 640.57,473.89 641.09,473.89 641.61,473.89 642.13,473.89 642.65,473.89 643.18,473.89 643.7,453.18 644.22,473.89 644.74,473.89 645.26,473.89 645.78,473.89 646.3,473.89 646.82,473.89 647.34,453.18 647.86,453.18 648.38,473.89 648.9,473.89 649.43,473.89 649.95,473.89 650.47,473.89 650.99,473.89 651.51,473.89 652.03,473.89 652.55,453.18 653.07,453.18 653.59,473.89 654.11,473.89 654.63,473.89 655.16,473.89 655.68,473.89 656.2,473.89 656.72,473.89 657.24,473.89 657.76,473.89 658.28,453.18 658.8,453.18 659.32,453.18 659.84,473.89 660.36,473.89 660.88,473.89 661.41,473.89 661.93,453.18 662.45,473.89 662.97,473.89 663.49,473.89 664.01,453.18 664.53,473.89 665.05,473.89 665.57,473.89 666.09,473.89 666.61,473.89 667.13,473.89 667.66,473.89 668.18,473.89 668.7,453.18 669.22,453.18 669.74,453.18 670.26,473.89 670.78,473.89 671.3,473.89 671.82,473.89 672.34,453.18 672.86,453.18 673.38,473.89 673.91,473.89 674.43,473.89 674.95,473.89 675.47,473.89 675.99,473.89 676.51,473.89 677.03,473.89 677.55,453.18 678.07,453.18 678.59,473.89 679.11,473.89 679.64,473.89 680.16,473.89 680.68,473.89 681.2,473.89 681.72,453.18 682.24,473.89 682.76,473.89 683.28,473.89 683.8,473.89 684.32,453.18 684.84,453.18 685.36,473.89 685.89,473.89 686.41,473.89 686.93,473.89 687.45,473.89 687.97,473.89 688.49,473.89 689.01,453.18 689.53,473.89 690.05,473.89 690.57,473.89 691.09,473.89 691.61,473.89 692.14,473.89 692.66,473.89 693.18,473.89 693.7,453.18 694.22,453.18 694.74,453.18 695.26,453.18 695.78,473.89 696.3,473.89 696.82,473.89 697.34,453.18 697.86,473.89 698.39,473.89 698.91,473.89 699.43,473.89 699.95,473.89 700.47,473.89 700.99,473.89 701.51,473.89 702.03,473.89 702.55,473.89 703.07,453.18 703.59,473.89 704.11,473.89 704.64,473.89 705.16,473.89 705.68,473.89 706.2,473.89 706.72,453.18 707.24,473.89 707.76,473.89 708.28,473.89 708.8,473.89 709.32,473.89 709.84,473.89 710.37,453.18 710.89,453.18 711.41,473.89 711.93,473.89 712.45,473.89 712.97,473.89 713.49,473.89 714.01,473.89 714.53,453.18 715.05,453.18 715.57,473.89 716.09,473.89 716.62,453.18 717.14,453.18 717.66,453.18 718.18,473.89 718.7,473.89 719.22,473.89 719.74,473.89 720.26,453.18 720.78,473.89 721.3,473.89 721.82,473.89 722.34,473.89 722.87,453.18 723.39,453.18 723.91,453.18 724.43,473.89 724.95,473.89 725.47,473.89 725.99,473.89 726.51,473.89 727.03,473.89 727.55,453.18 728.07,453.18 728.59,453.18 729.12,473.89 729.64,473.89 730.16,473.89 730.68,473.89 731.2,473.89 731.72,453.18 732.24,453.18 732.76,473.89 733.28,453.18 733.8,473.89 734.32,473.89 734.85,473.89 735.37,473.89 735.89,453.18 736.41,473.89 736.93,473.89 737.45,473.89 737.97,473.89 738.49,473.89 739.01,453.18 739.53,473.89 740.05,473.89 740.57,473.89 741.1,473.89 741.62,473.89 742.14,473.89 742.66,473.89 743.18,473.89 743.7,473.89 744.22,453.18 744.74,453.18 745.26,473.89 745.78,473.89 746.3,473.89 746.82,473.89 747.35,473.89 747.87,473.89 748.39,453.18 748.91,473.89 749.43,473.89 749.95,473.89 750.47,473.89 750.99,473.89 751.51,473.89 752.03,473.89 752.55,473.89 753.07,453.18 753.6,453.18 754.12,473.89 754.64,473.89 755.16,473.89 755.68,473.89 756.2,473.89 756.72,473.89 757.24,473.89 757.76,473.89 758.28,473.89 758.8,453.18 759.33,453.18 759.85,473.89 760.37,473.89 760.89,473.89 761.41,473.89 761.93,473.89 762.45,473.89 762.97,473.89 763.49,473.89 764.01,453.18 764.53,473.89 765.05,473.89 765.58,473.89 766.1,473.89 766.62,473.89 767.14,453.18 767.66,453.18 768.18,473.89 768.7,473.89 769.22,473.89 769.74,473.89 770.26,473.89 770.78,473.89 771.3,473.89 771.83,473.89 772.35,453.18 772.87,453.18 773.39,473.89 773.91,473.89 774.43,473.89 774.95,473.89 775.47,473.89 775.99,473.89 776.51,473.89 777.03,473.89 777.55,453.18 778.08,473.89 778.6,473.89 779.12,473.89 779.64,473.89 780.16,453.18 780.68,473.89 781.2,473.89 781.72,473.89 782.24,473.89 782.76,473.89 783.28,453.18 783.81,453.18 784.33,453.18 784.85,453.18 785.37,473.89 785.89,473.89 786.41,473.89 786.93,473.89 787.45,473.89 787.97,473.89 788.49,473.89 789.01,453.18 789.53,453.18 790.06,453.18 790.58,453.18 791.1,473.89 791.62,473.89 792.14,473.89 792.66,473.89 793.18,473.89 793.7,473.89 794.22,473.89 794.74,453.18 795.26,453.18 795.78,473.89 796.31,473.89 796.83,473.89 797.35,473.89 797.87,473.89 798.39,473.89 798.91,453.18 799.43,453.18 799.95,473.89 800.47,473.89 800.99,473.89 801.51,453.18 802.03,473.89 802.56,473.89 803.08,473.89 803.6,473.89 804.12,473.89 804.64,473.89 805.16,473.89 805.68,473.89 806.2,453.18 806.72,453.18 807.24,473.89 807.76,473.89 808.28,473.89 808.81,473.89 809.33,473.89 809.85,473.89 810.37,453.18 810.89,453.18 811.41,453.18 811.93,453.18 812.45,473.89 812.97,473.89 813.49,473.89 814.01,473.89 814.54,473.89 815.06,473.89 815.58,473.89 816.1,473.89 816.62,453.18 817.14,473.89 817.66,473.89 818.18,473.89 818.7,473.89 819.22,453.18 819.74,473.89 820.26,473.89 820.79,453.18 821.31,453.18 821.83,473.89 822.35,473.89 822.87,473.89 823.39,473.89 823.91,473.89 824.43,453.18 824.95,473.89 825.47,473.89 825.99,473.89 826.51,473.89 827.04,473.89 827.56,453.18 828.08,453.18 828.6,453.18 829.12,473.89 829.64,473.89 830.16,473.89 830.68,473.89 831.2,473.89 831.72,473.89 832.24,473.89 832.76,453.18 833.29,473.89 833.81,473.89 834.33,473.89 834.85,453.18 835.37,473.89 835.89,473.89 836.41,473.89 836.93,473.89 837.45,473.89 837.97,473.89 838.49,473.89 839.02,453.18 839.54,473.89 840.06,473.89 840.58,473.89 841.1,473.89 841.62,453.18 842.14,473.89 842.66,473.89 843.18,473.89 843.7,473.89 844.22,473.89 844.74,473.89 845.27,473.89 845.79,453.18 846.31,453.18 846.83,453.18 847.35,473.89 847.87,473.89 848.39,473.89 848.91,473.89 849.43,473.89 849.95,473.89 850.47,473.89 850.99,473.89 851.52,453.18 852.04,453.18 852.56,473.89 853.08,473.89 853.6,473.89 854.12,473.89 854.64,473.89 855.16,473.89 855.68,453.18 856.2,453.18 856.72,453.18 857.24,473.89 857.77,473.89 858.29,473.89 858.81,473.89 859.33,473.89 859.85,473.89 860.37,453.18 860.89,473.89 861.41,473.89 861.93,453.18 862.45,473.89 862.97,473.89 863.5,473.89 864.02,473.89 864.54,473.89 865.06,473.89 865.58,473.89 866.1,473.89 866.62,473.89 867.14,473.89 867.66,453.18 868.18,453.18 868.7,453.18 869.22,453.18 869.75,473.89 870.27,473.89 870.79,473.89 871.31,473.89 871.83,473.89 872.35,473.89 872.87,453.18 873.39,473.89 873.91,473.89 874.43,473.89 874.95,473.89 875.47,473.89 876,473.89 876.52,473.89 877.04,473.89 877.56,453.18 878.08,453.18 878.6,473.89 879.12,473.89 879.64,473.89 880.16,453.18 880.68,473.89 881.2,473.89 881.72,473.89 882.25,473.89 882.77,473.89 883.29,473.89 883.81,473.89 884.33,473.89 884.85,473.89 885.37,473.89 885.89,453.18 886.41,453.18 886.93,453.18 887.45,453.18 887.98,473.89 888.5,453.18 889.02,473.89 889.54,473.89 890.06,473.89 890.58,473.89 891.1,473.89 891.62,473.89 892.14,473.89 892.66,473.89 893.18,473.89 893.7,473.89 894.23,473.89 894.75,473.89 895.27,473.89 895.79,473.89 896.31,473.89 896.83,473.89 897.35,473.89 897.87,473.89 898.39,473.89 898.91,473.89 899.43,473.89 899.95,473.89 900.48,473.89 901,473.89 901.52,473.89 902.04,473.89 902.56,453.18 903.08,473.89 903.6,473.89 904.12,473.89 904.64,473.89 905.16,473.89 905.68,473.89 906.2,473.89 906.73,453.18 907.25,453.18 907.77,473.89 908.29,473.89 908.81,473.89 909.33,473.89 909.85,473.89 910.37,473.89 910.89,473.89 911.41,453.18 911.93,473.89 912.45,473.89 912.98,473.89 913.5,473.89 914.02,473.89 914.54,473.89 915.06,473.89 915.58,473.89 916.1,473.89 916.62,453.18 917.14,453.18 917.66,473.89 918.18,473.89 918.71,473.89 919.23,473.89 919.75,453.18 920.27,473.89 920.79,473.89 921.31,473.89 921.83,473.89 922.35,473.89 922.87,473.89 923.39,473.89 923.91,473.89 924.43,473.89 924.96,473.89 925.48,473.89 926,473.89 926.52,453.18 927.04,453.18 927.56,453.18 928.08,453.18 928.6,473.89 929.12,473.89 929.64,473.89 930.16,473.89 930.68,473.89 931.21,473.89 931.73,453.18 932.25,473.89 932.77,473.89 933.29,473.89 933.81,473.89 934.33,473.89 934.85,473.89 935.37,473.89 935.89,473.89 936.41,473.89 936.93,473.89 937.46,473.89 937.98,473.89 938.5,473.89 939.02,473.89 939.54,473.89 940.06,473.89 940.58,473.89 941.1,473.89 941.62,473.89 942.14,473.89 942.66,473.89 943.19,473.89 943.71,473.89 944.23,473.89 944.75,473.89 945.27,473.89 945.79,453.18 946.31,453.18 946.83,473.89 947.35,473.89 947.87,473.89 948.39,473.89 948.91,473.89 949.44,453.18 949.96,473.89 950.48,473.89 951,473.89 951.52,473.89 952.04,473.89 952.56,453.18 953.08,473.89 953.6,473.89 954.12,473.89 954.64,473.89 955.16,453.18 955.69,473.89 956.21,473.89 956.73,473.89 957.25,473.89 957.77,473.89 958.29,473.89 958.81,473.89 959.33,473.89 959.85,473.89 960.37,473.89 960.89,473.89 961.41,473.89 961.94,453.18 962.46,473.89 962.98,473.89 963.5,473.89 964.02,473.89 964.54,473.89 965.06,473.89 965.58,473.89 966.1,453.18 966.62,453.18 967.14,473.89 967.67,473.89 968.19,473.89 968.71,473.89 969.23,473.89 969.75,473.89 970.27,473.89 970.79,473.89 971.31,473.89 971.83,453.18 972.35,453.18 972.87,473.89 973.39,473.89 973.92,473.89 974.44,473.89 974.96,473.89 975.48,473.89 976,473.89 976.52,453.18 977.04,473.89 977.56,473.89 978.08,473.89 978.6,473.89 979.12,473.89 979.64,473.89 980.17,473.89 980.69,473.89 981.21,453.18 981.73,453.18 982.25,453.18 982.77,453.18 983.29,473.89 983.81,473.89 984.33,473.89 984.85,473.89 985.37,473.89 985.89,473.89 986.42,473.89 986.94,453.18 987.46,453.18 987.98,453.18 988.5,453.18 989.02,473.89 989.54,473.89 990.06,473.89 990.58,453.18 991.1,473.89 991.62,473.89 992.15,473.89 992.67,473.89 993.19,473.89 993.71,473.89 994.23,453.18 994.75,453.18 995.27,453.18 995.79,453.18 996.31,473.89 996.83,473.89 997.35,473.89 997.87,473.89 998.4,473.89 998.92,453.18 999.44,453.18 999.96,473.89 1000.48,473.89 1001,473.89 1001.52,473.89 1002.04,473.89 1002.56,473.89 1003.08,473.89 1003.6,473.89 1004.12,473.89 1004.65,473.89 1005.17,473.89 1005.69,473.89 1006.21,473.89 1006.73,473.89 1007.25,473.89 1007.77,473.89 1008.29,473.89 1008.81,473.89 1009.33,473.89 1009.85,453.18 1010.37,453.18 1010.9,473.89 1011.42,473.89 1011.94,473.89 1012.46,473.89 1012.98,453.18 1013.5,473.89 1014.02,473.89 1014.54,473.89 1015.06,473.89 1015.58,473.89 1016.1,473.89 1016.62,453.18 1017.15,453.18 1017.67,473.89 1018.19,473.89 1018.71,473.89 1019.23,473.89 1019.75,473.89 1020.27,473.89 1020.79,453.18 1021.31,473.89 1021.83,473.89 1022.35,473.89 1022.88,473.89 1023.4,473.89 1023.92,473.89 1024.44,473.89 1024.96,473.89 1025.48,473.89 1026,473.89 1026.52,473.89 1027.04,473.89 1027.56,473.89 1028.08,473.89 1028.6,473.89 1029.13,473.89 1029.65,473.89 1030.17,473.89 1030.69,473.89 1031.21,473.89 1031.73,473.89 1032.25,473.89 1032.77,473.89 1033.29,453.18 1033.81,453.18 1034.33,473.89 1034.85,473.89 1035.38,473.89 1035.9,473.89 1036.42,473.89 1036.94,473.89 1037.46,473.89 1037.98,473.89 1038.5,473.89 1039.02,473.89 1039.54,473.89 1040.06,473.89 1040.58,473.89 1041.1,473.89 1041.63,473.89 1042.15,473.89 1042.67,473.89 1043.19,473.89 1043.71,473.89 1044.23,473.89 1044.75,473.89 1045.27,473.89 1045.79,473.89 1046.31,473.89 1046.83,473.89 1047.36,473.89 1047.88,473.89 1048.4,473.89 1048.92,473.89 1049.44,473.89 1049.96,473.89 1050.48,473.89 1051,473.89 1051.52,473.89 1052.04,473.89 1052.56,473.89 1053.08,453.18 1053.61,453.18 1054.13,473.89 1054.65,473.89 1055.17,473.89 1055.69,473.89 1056.21,473.89 1056.73,473.89 1057.25,473.89 1057.77,473.89 1058.29,473.89 1058.81,473.89 1059.33,473.89 1059.86,473.89 1060.38,473.89 1060.9,473.89 1061.42,473.89 1061.94,473.89 1062.46,473.89 1062.98,473.89 1063.5,473.89 1064.02,473.89 1064.54,473.89 1065.06,473.89 1065.58,473.89 1066.11,473.89 1066.63,473.89 1067.15,473.89 1067.67,473.89 1068.19,473.89 1068.71,473.89 1069.23,473.89 1069.75,473.89 1070.27,473.89 1070.79,473.89 1071.31,473.89 1071.84,473.89 1072.36,473.89 1072.88,473.89 1073.4,473.89 1073.92,473.89 1074.44,473.89 1074.96,473.89 1075.48,473.89 1076,473.89 1076.52,473.89 1077.04,473.89 1077.56,473.89 1078.09,473.89 1078.61,473.89 1079.13,473.89 1079.65,473.89 1080.17,473.89 1080.69,473.89 1081.21,473.89 1081.73,473.89 1082.25,453.18 1082.77,453.18 1083.29,453.18 1083.81,453.18 1084.34,473.89 1084.86,473.89 1085.38,473.89 1085.9,473.89 1086.42,473.89 1086.94,453.18 1087.46,453.18 1087.98,453.18 1088.5,453.18 1089.02,473.89 1089.54,473.89 1090.06,473.89 1090.59,473.89 1091.11,473.89 1091.63,473.89 1092.15,453.18 1092.67,473.89 1093.19,453.18 1093.71,473.89 1094.23,473.89 1094.75,453.18 1095.27,473.89 1095.79,473.89 1096.32,473.89 1096.84,473.89 1097.36,473.89 1097.88,473.89 1098.4,453.18 1098.92,473.89 1099.44,473.89 1099.96,453.18 1100.48,453.18 1101,453.18 1101.52,453.18 1102.04,473.89 1102.57,473.89 1103.09,473.89 1103.61,473.89 1104.13,473.89 1104.65,453.18 1105.17,473.89 1105.69,453.18 1106.21,453.18 1106.73,453.18 1107.25,473.89 1107.77,473.89 1108.29,473.89 1108.82,473.89 1109.34,473.89 1109.86,473.89 1110.38,473.89 1110.9,473.89 1111.42,473.89 1111.94,453.18 1112.46,453.18 1112.98,473.89 1113.5,473.89 1114.02,473.89 1114.54,473.89 1115.07,473.89 1115.59,473.89 1116.11,473.89 1116.63,453.18 1117.15,473.89 1117.67,473.89 1118.19,473.89 1118.71,473.89 1119.23,473.89 1119.75,473.89 1120.27,473.89 1120.79,473.89 1121.32,453.18 1121.84,453.18 1122.36,453.18 1122.88,473.89 1123.4,473.89 1123.92,473.89 1124.44,473.89 1124.96,473.89 1125.48,473.89 1126,453.18 1126.52,453.18 1127.05,473.89 1127.57,473.89 1128.09,473.89 1128.61,473.89 1129.13,473.89 1129.65,473.89 1130.17,473.89 1130.69,473.89 1131.21,473.89 1131.73,473.89 1132.25,473.89 1132.77,473.89 1133.3,473.89 1133.82,473.89 1134.34,473.89 1134.86,473.89 1135.38,473.89 1135.9,473.89 1136.42,473.89 1136.94,473.89 1137.46,473.89 1137.98,473.89 1138.5,473.89 1139.02,473.89 1139.02,494.6" fill="#708090" stroke="#708090" stroke-width="3.28" stroke-linejoin="round"/></g>
<polyline clip-path="url(#cb)" points="106.7,494.6 107.22,494.6 107.74,308.21 108.26,494.6 108.78,494.6 109.3,494.6 109.83,494.6 110.35,453.18 110.87,494.6 111.39,453.18 111.91,411.76 112.43,453.18 112.95,494.6 113.47,453.18 113.99,494.6 114.51,453.18 115.03,494.6 115.55,453.18 116.08,494.6 116.6,453.18 117.12,494.6 117.64,494.6 118.16,494.6 118.68,494.6 119.2,494.6 119.72,494.6 120.24,473.89 120.76,473.89 121.28,494.6 121.8,494.6 122.33,494.6 122.85,494.6 123.37,494.6 123.89,494.6 124.41,494.6 124.93,494.6 125.45,494.6 125.97,494.6 126.49,473.89 127.01,494.6 127.53,473.89 128.05,453.18 128.58,473.89 129.1,494.6 129.62,473.89 130.14,494.6 130.66,494.6 131.18,494.6 131.7,494.6 132.22,494.6 132.74,494.6 133.26,370.34 133.78,494.6 134.31,494.6 134.83,494.6 135.35,494.6 135.87,494.6 136.39,494.6 136.91,473.89 137.43,494.6 137.95,494.6 138.47,494.6 138.99,494.6 139.51,494.6 140.03,494.6 140.56,473.89 141.08,494.6 141.6,494.6 142.12,494.6 142.64,494.6 143.16,494.6 143.68,494.6 144.2,494.6 144.72,494.6 145.24,494.6 145.76,494.6 146.28,494.6 146.81,494.6 147.33,473.89 147.85,494.6 148.37,494.6 148.89,494.6 149.41,494.6 149.93,494.6 150.45,494.6 150.97,494.6 151.49,453.18 152.01,494.6 152.53,494.6 153.06,494.6 153.58,494.6 154.1,494.6 154.62,494.6 155.14,494.6 155.66,473.89 156.18,494.6 156.7,494.6 157.22,494.6 157.74,494.6 158.26,494.6 158.78,494.6 159.31,494.6 159.83,494.6 160.35,494.6 160.87,494.6 161.39,494.6 161.91,494.6 162.43,494.6 162.95,494.6 163.47,494.6 163.99,494.6 164.51,473.89 165.04,494.6 165.56,494.6 166.08,494.6 166.6,494.6 167.12,494.6 167.64,473.89 168.16,494.6 168.68,494.6 169.2,494.6 169.72,494.6 170.24,494.6 170.76,494.6 171.29,494.6 171.81,494.6 172.33,494.6 172.85,494.6 173.37,494.6 173.89,494.6 174.41,494.6 174.93,494.6 175.45,494.6 175.97,494.6 176.49,494.6 177.01,494.6 177.54,494.6 178.06,494.6 178.58,494.6 179.1,494.6 179.62,494.6 180.14,494.6 180.66,494.6 181.18,494.6 181.7,494.6 182.22,494.6 182.74,494.6 183.26,494.6 183.79,494.6 184.31,494.6 184.83,494.6 185.35,494.6 185.87,494.6 186.39,494.6 186.91,494.6 187.43,494.6 187.95,494.6 188.47,494.6 188.99,494.6 189.52,494.6 190.04,494.6 190.56,494.6 191.08,494.6 191.6,494.6 192.12,494.6 192.64,494.6 193.16,494.6 193.68,494.6 194.2,494.6 194.72,494.6 195.24,494.6 195.77,494.6 196.29,494.6 196.81,494.6 197.33,494.6 197.85,494.6 198.37,494.6 198.89,494.6 199.41,494.6 199.93,494.6 200.45,494.6 200.97,494.6 201.49,494.6 202.02,494.6 202.54,494.6 203.06,473.89 203.58,473.89 204.1,494.6 204.62,494.6 205.14,494.6 205.66,494.6 206.18,494.6 206.7,494.6 207.22,494.6 207.74,494.6 208.27,494.6 208.79,494.6 209.31,494.6 209.83,494.6 210.35,494.6 210.87,494.6 211.39,494.6 211.91,494.6 212.43,494.6 212.95,494.6 213.47,494.6 214,494.6 214.52,494.6 215.04,494.6 215.56,494.6 216.08,494.6 216.6,494.6 217.12,494.6 217.64,494.6 218.16,494.6 218.68,494.6 219.2,494.6 219.72,494.6 220.25,494.6 220.77,494.6 221.29,494.6 221.81,494.6 222.33,494.6 222.85,494.6 223.37,494.6 223.89,494.6 224.41,494.6 224.93,494.6 225.45,473.89 225.97,494.6 226.5,494.6 227.02,494.6 227.54,494.6 228.06,494.6 228.58,494.6 229.1,494.6 229.62,494.6 230.14,494.6 230.66,494.6 231.18,494.6 231.7,494.6 232.22,494.6 232.75,473.89 233.27,494.6 233.79,494.6 234.31,494.6 234.83,494.6 235.35,494.6 235.87,494.6 236.39,494.6 236.91,494.6 237.43,494.6 237.95,494.6 238.48,494.6 239,494.6 239.52,494.6 240.04,494.6 240.56,494.6 241.08,494.6 241.6,494.6 242.12,494.6 242.64,494.6 243.16,494.6 243.68,494.6 244.2,494.6 244.73,494.6 245.25,494.6 245.77,494.6 246.29,494.6 246.81,494.6 247.33,494.6 247.85,494.6 248.37,494.6 248.89,473.89 249.41,494.6 249.93,494.6 250.45,494.6 250.98,494.6 251.5,494.6 252.02,494.6 252.54,494.6 253.06,494.6 253.58,494.6 254.1,494.6 254.62,494.6 255.14,432.47 255.66,494.6 256.18,494.6 256.7,494.6 257.23,494.6 257.75,494.6 258.27,494.6 258.79,494.6 259.31,494.6 259.83,494.6 260.35,494.6 260.87,494.6 261.39,494.6 261.91,494.6 262.43,494.6 262.96,494.6 263.48,494.6 264,494.6 264.52,494.6 265.04,494.6 265.56,494.6 266.08,494.6 266.6,494.6 267.12,494.6 267.64,494.6 268.16,494.6 268.68,494.6 269.21,494.6 269.73,494.6 270.25,494.6 270.77,494.6 271.29,494.6 271.81,494.6 272.33,453.18 272.85,494.6 273.37,494.6 273.89,494.6 274.41,494.6 274.93,494.6 275.46,494.6 275.98,494.6 276.5,494.6 277.02,494.6 277.54,494.6 278.06,494.6 278.58,494.6 279.1,494.6 279.62,494.6 280.14,494.6 280.66,494.6 281.18,453.18 281.71,494.6 282.23,494.6 282.75,494.6 283.27,494.6 283.79,494.6 284.31,494.6 284.83,494.6 285.35,494.6 285.87,494.6 286.39,494.6 286.91,494.6 287.43,494.6 287.96,494.6 288.48,494.6 289,494.6 289.52,494.6 290.04,494.6 290.56,494.6 291.08,494.6 291.6,494.6 292.12,494.6 292.64,494.6 293.16,494.6 293.69,494.6 294.21,494.6 294.73,473.89 295.25,494.6 295.77,494.6 296.29,494.6 296.81,494.6 297.33,494.6 297.85,494.6 298.37,494.6 298.89,494.6 299.41,494.6 299.94,494.6 300.46,494.6 300.98,494.6 301.5,473.89 302.02,494.6 302.54,494.6 303.06,494.6 303.58,494.6 304.1,494.6 304.62,494.6 305.14,494.6 305.66,494.6 306.19,494.6 306.71,494.6 307.23,494.6 307.75,494.6 308.27,473.89 308.79,494.6 309.31,473.89 309.83,494.6 310.35,473.89 310.87,494.6 311.39,473.89 311.91,494.6 312.44,473.89 312.96,494.6 313.48,473.89 314,494.6 314.52,473.89 315.04,494.6 315.56,494.6 316.08,494.6 316.6,494.6 317.12,494.6 317.64,494.6 318.17,494.6 318.69,494.6 319.21,494.6 319.73,494.6 320.25,494.6 320.77,453.18 321.29,473.89 321.81,494.6 322.33,473.89 322.85,494.6 323.37,473.89 323.89,494.6 324.42,473.89 324.94,494.6 325.46,473.89 325.98,494.6 326.5,473.89 327.02,494.6 327.54,453.18 328.06,494.6 328.58,473.89 329.1,494.6 329.62,473.89 330.14,453.18 330.67,473.89 331.19,494.6 331.71,473.89 332.23,494.6 332.75,473.89 333.27,411.76 333.79,473.89 334.31,494.6 334.83,473.89 335.35,494.6 335.87,473.89 336.39,494.6 336.92,432.47 337.44,494.6 337.96,473.89 338.48,494.6 339,473.89 339.52,411.76 340.04,473.89 340.56,494.6 341.08,473.89 341.6,494.6 342.12,494.6 342.65,494.6 343.17,494.6 343.69,494.6 344.21,494.6 344.73,494.6 345.25,494.6 345.77,494.6 346.29,494.6 346.81,494.6 347.33,494.6 347.85,494.6 348.37,494.6 348.9,494.6 349.42,494.6 349.94,494.6 350.46,494.6 350.98,494.6 351.5,494.6 352.02,494.6 352.54,494.6 353.06,494.6 353.58,494.6 354.1,494.6 354.62,494.6 355.15,432.47 355.67,494.6 356.19,473.89 356.71,494.6 357.23,473.89 357.75,494.6 358.27,473.89 358.79,432.47 359.31,473.89 359.83,494.6 360.35,473.89 360.87,494.6 361.4,473.89 361.92,494.6 362.44,494.6 362.96,494.6 363.48,494.6 364,494.6 364.52,494.6 365.04,453.18 365.56,494.6 366.08,494.6 366.6,494.6 367.12,494.6 367.65,494.6 368.17,494.6 368.69,494.6 369.21,494.6 369.73,494.6 370.25,494.6 370.77,494.6 371.29,494.6 371.81,494.6 372.33,494.6 372.85,494.6 373.38,494.6 373.9,494.6 374.42,494.6 374.94,494.6 375.46,494.6 375.98,494.6 376.5,494.6 377.02,494.6 377.54,494.6 378.06,494.6 378.58,494.6 379.1,494.6 379.63,494.6 380.15,494.6 380.67,494.6 381.19,494.6 381.71,494.6 382.23,494.6 382.75,494.6 383.27,494.6 383.79,494.6 384.31,494.6 384.83,494.6 385.35,494.6 385.88,494.6 386.4,494.6 386.92,494.6 387.44,494.6 387.96,494.6 388.48,494.6 389,494.6 389.52,473.89 390.04,494.6 390.56,494.6 391.08,494.6 391.6,494.6 392.13,494.6 392.65,494.6 393.17,494.6 393.69,494.6 394.21,494.6 394.73,473.89 395.25,494.6 395.77,494.6 396.29,494.6 396.81,494.6 397.33,494.6 397.86,494.6 398.38,494.6 398.9,494.6 399.42,494.6 399.94,494.6 400.46,494.6 400.98,494.6 401.5,494.6 402.02,494.6 402.54,494.6 403.06,494.6 403.58,494.6 404.11,494.6 404.63,494.6 405.15,494.6 405.67,494.6 406.19,494.6 406.71,494.6 407.23,494.6 407.75,494.6 408.27,494.6 408.79,494.6 409.31,494.6 409.83,494.6 410.36,494.6 410.88,494.6 411.4,494.6 411.92,494.6 412.44,494.6 412.96,494.6 413.48,494.6 414,494.6 414.52,494.6 415.04,494.6 415.56,494.6 416.08,494.6 416.61,494.6 417.13,494.6 417.65,494.6 418.17,494.6 418.69,494.6 419.21,494.6 419.73,494.6 420.25,494.6 420.77,494.6 421.29,494.6 421.81,494.6 422.34,494.6 422.86,494.6 423.38,494.6 423.9,494.6 424.42,453.18 424.94,494.6 425.46,494.6 425.98,494.6 426.5,473.89 427.02,494.6 427.54,494.6 428.06,494.6 428.59,494.6 429.11,494.6 429.63,494.6 430.15,494.6 430.67,494.6 431.19,494.6 431.71,494.6 432.23,494.6 432.75,494.6 433.27,494.6 433.79,494.6 434.31,494.6 434.84,494.6 435.36,494.6 435.88,494.6 436.4,494.6 436.92,494.6 437.44,494.6 437.96,494.6 438.48,494.6 439,494.6 439.52,494.6 440.04,494.6 440.56,494.6 441.09,494.6 441.61,494.6 442.13,494.6 442.65,494.6 443.17,494.6 443.69,494.6 444.21,494.6 444.73,494.6 445.25,494.6 445.77,494.6 446.29,494.6 446.82,494.6 447.34,494.6 447.86,494.6 448.38,494.6 448.9,494.6 449.42,494.6 449.94,494.6 450.46,494.6 450.98,494.6 451.5,494.6 452.02,494.6 452.54,494.6 453.07,494.6 453.59,494.6 454.11,473.89 454.63,494.6 455.15,494.6 455.67,494.6 456.19,494.6 456.71,494.6 457.23,494.6 457.75,494.6 458.27,494.6 458.79,494.6 459.32,473.89 459.84,494.6 460.36,494.6 460.88,494.6 461.4,494.6 461.92,494.6 462.44,494.6 462.96,494.6 463.48,494.6 464,494.6 464.52,494.6 465.04,494.6 465.57,494.6 466.09,494.6 466.61,494.6 467.13,494.6 467.65,453.18 468.17,494.6 468.69,494.6 469.21,494.6 469.73,494.6 470.25,494.6 470.77,494.6 471.3,473.89 471.82,494.6 472.34,494.6 472.86,494.6 473.38,494.6 473.9,494.6 474.42,494.6 474.94,494.6 475.46,494.6 475.98,473.89 476.5,494.6 477.02,494.6 477.55,494.6 478.07,494.6 478.59,494.6 479.11,494.6 479.63,494.6 480.15,494.6 480.67,494.6 481.19,494.6 481.71,494.6 482.23,494.6 482.75,494.6 483.27,494.6 483.8,494.6 484.32,473.89 484.84,494.6 485.36,494.6 485.88,494.6 486.4,494.6 486.92,494.6 487.44,494.6 487.96,494.6 488.48,494.6 489,494.6 489.52,494.6 490.05,494.6 490.57,494.6 491.09,494.6 491.61,494.6 492.13,494.6 492.65,494.6 493.17,473.89 493.69,494.6 494.21,494.6 494.73,494.6 495.25,494.6 495.77,494.6 496.3,494.6 496.82,494.6 497.34,494.6 497.86,494.6 498.38,494.6 498.9,494.6 499.42,494.6 499.94,494.6 500.46,494.6 500.98,494.6 501.5,494.6 502.03,494.6 502.55,494.6 503.07,494.6 503.59,494.6 504.11,494.6 504.63,494.6 505.15,494.6 505.67,494.6 506.19,494.6 506.71,494.6 507.23,494.6 507.75,473.89 508.28,494.6 508.8,494.6 509.32,494.6 509.84,494.6 510.36,494.6 510.88,494.6 511.4,494.6 511.92,494.6 512.44,494.6 512.96,494.6 513.48,494.6 514,494.6 514.53,494.6 515.05,494.6 515.57,494.6 516.09,494.6 516.61,494.6 517.13,494.6 517.65,494.6 518.17,494.6 518.69,494.6 519.21,494.6 519.73,494.6 520.25,494.6 520.78,494.6 521.3,494.6 521.82,494.6 522.34,494.6 522.86,494.6 523.38,494.6 523.9,494.6 524.42,494.6 524.94,494.6 525.46,494.6 525.98,494.6 526.51,494.6 527.03,494.6 527.55,494.6 528.07,494.6 528.59,494.6 529.11,494.6 529.63,494.6 530.15,494.6 530.67,494.6 531.19,494.6 531.71,494.6 532.23,494.6 532.76,494.6 533.28,494.6 533.8,494.6 534.32,494.6 534.84,473.89 535.36,494.6 535.88,494.6 536.4,494.6 536.92,494.6 537.44,494.6 537.96,494.6 538.48,494.6 539.01,473.89 539.53,494.6 540.05,494.6 540.57,494.6 541.09,494.6 541.61,494.6 542.13,494.6 542.65,494.6 543.17,473.89 543.69,494.6 544.21,494.6 544.73,494.6 545.26,494.6 545.78,494.6 546.3,494.6 546.82,494.6 547.34,473.89 547.86,494.6 548.38,494.6 548.9,494.6 549.42,494.6 549.94,494.6 550.46,494.6 550.99,494.6 551.51,494.6 552.03,494.6 552.55,494.6 553.07,494.6 553.59,494.6 554.11,494.6 554.63,494.6 555.15,473.89 555.67,494.6 556.19,473.89 556.71,494.6 557.24,473.89 557.76,494.6 558.28,473.89 558.8,453.18 559.32,494.6 559.84,453.18 560.36,494.6 560.88,453.18 561.4,411.76 561.92,453.18 562.44,494.6 562.96,453.18 563.49,494.6 564.01,453.18 564.53,494.6 565.05,494.6 565.57,494.6 566.09,494.6 566.61,411.76 567.13,494.6 567.65,411.76 568.17,473.89 568.69,391.05 569.21,494.6 569.74,411.76 570.26,473.89 570.78,411.76 571.3,432.47 571.82,411.76 572.34,432.47 572.86,411.76 573.38,391.05 573.9,411.76 574.42,432.47 574.94,411.76 575.47,432.47 575.99,494.6 576.51,494.6 577.03,494.6 577.55,432.47 578.07,494.6 578.59,494.6 579.11,494.6 579.63,494.6 580.15,494.6 580.67,494.6 581.19,494.6 581.72,411.76 582.24,494.6 582.76,494.6 583.28,494.6 583.8,494.6 584.32,473.89 584.84,494.6 585.36,494.6 585.88,494.6 586.4,494.6 586.92,494.6 587.44,473.89 587.97,494.6 588.49,494.6 589.01,494.6 589.53,494.6 590.05,494.6 590.57,432.47 591.09,494.6 591.61,494.6 592.13,494.6 592.65,494.6 593.17,494.6 593.69,494.6 594.22,494.6 594.74,494.6 595.26,453.18 595.78,494.6 596.3,453.18 596.82,494.6 597.34,453.18 597.86,494.6 598.38,453.18 598.9,494.6 599.42,494.6 599.94,494.6 600.47,494.6 600.99,494.6 601.51,494.6 602.03,494.6 602.55,494.6 603.07,494.6 603.59,494.6 604.11,494.6 604.63,432.47 605.15,494.6 605.67,494.6 606.2,494.6 606.72,473.89 607.24,494.6 607.76,473.89 608.28,494.6 608.8,473.89 609.32,494.6 609.84,473.89 610.36,494.6 610.88,494.6 611.4,494.6 611.92,494.6 612.45,494.6 612.97,494.6 613.49,432.47 614.01,494.6 614.53,494.6 615.05,494.6 615.57,494.6 616.09,494.6 616.61,494.6 617.13,494.6 617.65,494.6 618.17,494.6 618.7,494.6 619.22,494.6 619.74,494.6 620.26,473.89 620.78,494.6 621.3,494.6 621.82,494.6 622.34,494.6 622.86,494.6 623.38,494.6 623.9,494.6 624.42,494.6 624.95,453.18 625.47,494.6 625.99,494.6 626.51,494.6 627.03,494.6 627.55,494.6 628.07,494.6 628.59,494.6 629.11,494.6 629.63,453.18 630.15,494.6 630.68,494.6 631.2,494.6 631.72,494.6 632.24,494.6 632.76,494.6 633.28,391.05 633.8,494.6 634.32,494.6 634.84,494.6 635.36,494.6 635.88,453.18 636.4,494.6 636.93,494.6 637.45,494.6 637.97,494.6 638.49,453.18 639.01,494.6 639.53,494.6 640.05,494.6 640.57,494.6 641.09,494.6 641.61,453.18 642.13,494.6 642.65,453.18 643.18,494.6 643.7,453.18 644.22,432.47 644.74,453.18 645.26,494.6 645.78,453.18 646.3,494.6 646.82,494.6 647.34,473.89 647.86,494.6 648.38,473.89 648.9,494.6 649.43,473.89 649.95,494.6 650.47,473.89 650.99,494.6 651.51,473.89 652.03,494.6 652.55,473.89 653.07,494.6 653.59,494.6 654.11,494.6 654.63,453.18 655.16,494.6 655.68,494.6 656.2,494.6 656.72,494.6 657.24,494.6 657.76,494.6 658.28,494.6 658.8,494.6 659.32,494.6 659.84,453.18 660.36,494.6 660.88,494.6 661.41,494.6 661.93,494.6 662.45,494.6 662.97,494.6 663.49,494.6 664.01,494.6 664.53,473.89 665.05,494.6 665.57,494.6 666.09,494.6 666.61,494.6 667.13,494.6 667.66,473.89 668.18,494.6 668.7,473.89 669.22,494.6 669.74,473.89 670.26,494.6 670.78,473.89 671.3,494.6 671.82,473.89 672.34,494.6 672.86,473.89 673.38,494.6 673.91,473.89 674.43,494.6 674.95,473.89 675.47,494.6 675.99,473.89 676.51,494.6 677.03,473.89 677.55,494.6 678.07,473.89 678.59,494.6 679.11,473.89 679.64,494.6 680.16,473.89 680.68,432.47 681.2,494.6 681.72,494.6 682.24,494.6 682.76,494.6 683.28,494.6 683.8,494.6 684.32,473.89 684.84,494.6 685.36,473.89 685.89,494.6 686.41,473.89 686.93,494.6 687.45,473.89 687.97,494.6 688.49,473.89 689.01,494.6 689.53,473.89 690.05,494.6 690.57,453.18 691.09,494.6 691.61,494.6 692.14,494.6 692.66,494.6 693.18,494.6 693.7,494.6 694.22,494.6 694.74,494.6 695.26,453.18 695.78,494.6 696.3,494.6 696.82,494.6 697.34,494.6 697.86,494.6 698.39,494.6 698.91,494.6 699.43,494.6 699.95,473.89 700.47,473.89 700.99,494.6 701.51,494.6 702.03,494.6 702.55,494.6 703.07,494.6 703.59,494.6 704.11,494.6 704.64,494.6 705.16,494.6 705.68,473.89 706.2,494.6 706.72,473.89 707.24,494.6 707.76,473.89 708.28,494.6 708.8,473.89 709.32,494.6 709.84,473.89 710.37,494.6 710.89,494.6 711.41,494.6 711.93,494.6 712.45,494.6 712.97,453.18 713.49,494.6 714.01,494.6 714.53,494.6 715.05,494.6 715.57,494.6 716.09,494.6 716.62,494.6 717.14,494.6 717.66,494.6 718.18,494.6 718.7,494.6 719.22,494.6 719.74,494.6 720.26,494.6 720.78,494.6 721.3,494.6 721.82,494.6 722.34,494.6 722.87,494.6 723.39,494.6 723.91,494.6 724.43,494.6 724.95,494.6 725.47,494.6 725.99,494.6 726.51,494.6 727.03,494.6 727.55,494.6 728.07,494.6 728.59,494.6 729.12,494.6 729.64,494.6 730.16,494.6 730.68,494.6 731.2,473.89 731.72,473.89 732.24,494.6 732.76,494.6 733.28,494.6 733.8,494.6 734.32,494.6 734.85,494.6 735.37,494.6 735.89,494.6 736.41,494.6 736.93,494.6 737.45,494.6 737.97,494.6 738.49,494.6 739.01,494.6 739.53,432.47 740.05,494.6 740.57,494.6 741.1,494.6 741.62,494.6 742.14,494.6 742.66,494.6 743.18,494.6 743.7,494.6 744.22,494.6 744.74,494.6 745.26,494.6 745.78,494.6 746.3,494.6 746.82,494.6 747.35,473.89 747.87,494.6 748.39,494.6 748.91,494.6 749.43,494.6 749.95,494.6 750.47,494.6 750.99,494.6 751.51,494.6 752.03,494.6 752.55,494.6 753.07,494.6 753.6,494.6 754.12,494.6 754.64,494.6 755.16,494.6 755.68,494.6 756.2,494.6 756.72,494.6 757.24,494.6 757.76,494.6 758.28,473.89 758.8,494.6 759.33,473.89 759.85,494.6 760.37,473.89 760.89,494.6 761.41,473.89 761.93,494.6 762.45,473.89 762.97,494.6 763.49,473.89 764.01,494.6 764.53,473.89 765.05,494.6 765.58,432.47 766.1,494.6 766.62,494.6 767.14,494.6 767.66,494.6 768.18,494.6 768.7,494.6 769.22,494.6 769.74,473.89 770.26,494.6 770.78,494.6 771.3,494.6 771.83,494.6 772.35,494.6 772.87,494.6 773.39,494.6 773.91,494.6 774.43,494.6 774.95,494.6 775.47,494.6 775.99,494.6 776.51,494.6 777.03,494.6 777.55,494.6 778.08,473.89 778.6,494.6 779.12,494.6 779.64,494.6 780.16,494.6 780.68,494.6 781.2,494.6 781.72,473.89 782.24,494.6 782.76,494.6 783.28,473.89 783.81,494.6 784.33,494.6 784.85,494.6 785.37,494.6 785.89,494.6 786.41,494.6 786.93,494.6 787.45,494.6 787.97,494.6 788.49,494.6 789.01,473.89 789.53,494.6 790.06,494.6 790.58,494.6 791.1,494.6 791.62,494.6 792.14,494.6 792.66,494.6 793.18,494.6 793.7,494.6 794.22,494.6 794.74,494.6 795.26,494.6 795.78,494.6 796.31,494.6 796.83,473.89 797.35,494.6 797.87,494.6 798.39,494.6 798.91,494.6 799.43,494.6 799.95,494.6 800.47,494.6 800.99,473.89 801.51,494.6 802.03,494.6 802.56,494.6 803.08,494.6 803.6,494.6 804.12,494.6 804.64,494.6 805.16,494.6 805.68,494.6 806.2,494.6 806.72,494.6 807.24,494.6 807.76,494.6 808.28,494.6 808.81,494.6 809.33,494.6 809.85,494.6 810.37,494.6 810.89,494.6 811.41,494.6 811.93,494.6 812.45,473.89 812.97,494.6 813.49,494.6 814.01,473.89 814.54,494.6 815.06,494.6 815.58,494.6 816.1,494.6 816.62,494.6 817.14,494.6 817.66,494.6 818.18,494.6 818.7,494.6 819.22,473.89 819.74,494.6 820.26,494.6 820.79,494.6 821.31,494.6 821.83,494.6 822.35,494.6 822.87,494.6 823.39,494.6 823.91,494.6 824.43,494.6 824.95,494.6 825.47,494.6 825.99,494.6 826.51,494.6 827.04,494.6 827.56,473.89 828.08,494.6 828.6,494.6 829.12,473.89 829.64,494.6 830.16,494.6 830.68,494.6 831.2,494.6 831.72,494.6 832.24,494.6 832.76,494.6 833.29,494.6 833.81,494.6 834.33,494.6 834.85,494.6 835.37,494.6 835.89,473.89 836.41,494.6 836.93,494.6 837.45,494.6 837.97,494.6 838.49,494.6 839.02,494.6 839.54,494.6 840.06,494.6 840.58,494.6 841.1,494.6 841.62,494.6 842.14,494.6 842.66,494.6 843.18,494.6 843.7,494.6 844.22,494.6 844.74,494.6 845.27,494.6 845.79,473.89 846.31,494.6 846.83,494.6 847.35,494.6 847.87,494.6 848.39,494.6 848.91,494.6 849.43,494.6 849.95,473.89 850.47,494.6 850.99,473.89 851.52,494.6 852.04,473.89 852.56,494.6 853.08,473.89 853.6,494.6 854.12,473.89 854.64,494.6 855.16,473.89 855.68,494.6 856.2,494.6 856.72,494.6 857.24,494.6 857.77,494.6 858.29,494.6 858.81,494.6 859.33,494.6 859.85,473.89 860.37,494.6 860.89,494.6 861.41,494.6 861.93,494.6 862.45,453.18 862.97,494.6 863.5,494.6 864.02,494.6 864.54,494.6 865.06,494.6 865.58,494.6 866.1,494.6 866.62,494.6 867.14,494.6 867.66,494.6 868.18,494.6 868.7,494.6 869.22,494.6 869.75,494.6 870.27,494.6 870.79,494.6 871.31,494.6 871.83,494.6 872.35,473.89 872.87,494.6 873.39,473.89 873.91,494.6 874.43,473.89 874.95,494.6 875.47,473.89 876,494.6 876.52,473.89 877.04,494.6 877.56,473.89 878.08,494.6 878.6,473.89 879.12,494.6 879.64,473.89 880.16,494.6 880.68,494.6 881.2,453.18 881.72,494.6 882.25,494.6 882.77,494.6 883.29,494.6 883.81,494.6 884.33,494.6 884.85,494.6 885.37,494.6 885.89,494.6 886.41,494.6 886.93,494.6 887.45,453.18 887.98,494.6 888.5,494.6 889.02,494.6 889.54,494.6 890.06,494.6 890.58,494.6 891.1,494.6 891.62,494.6 892.14,494.6 892.66,494.6 893.18,494.6 893.7,494.6 894.23,494.6 894.75,494.6 895.27,494.6 895.79,494.6 896.31,494.6 896.83,494.6 897.35,494.6 897.87,494.6 898.39,494.6 898.91,494.6 899.43,473.89 899.95,494.6 900.48,494.6 901,494.6 901.52,494.6 902.04,494.6 902.56,494.6 903.08,494.6 903.6,494.6 904.12,494.6 904.64,494.6 905.16,494.6 905.68,494.6 906.2,494.6 906.73,494.6 907.25,494.6 907.77,494.6 908.29,494.6 908.81,494.6 909.33,494.6 909.85,473.89 910.37,473.89 910.89,494.6 911.41,494.6 911.93,494.6 912.45,494.6 912.98,494.6 913.5,494.6 914.02,494.6 914.54,494.6 915.06,494.6 915.58,494.6 916.1,494.6 916.62,494.6 917.14,494.6 917.66,494.6 918.18,473.89 918.71,494.6 919.23,494.6 919.75,494.6 920.27,494.6 920.79,494.6 921.31,494.6 921.83,494.6 922.35,453.18 922.87,494.6 923.39,494.6 923.91,494.6 924.43,494.6 924.96,494.6 925.48,494.6 926,494.6 926.52,494.6 927.04,494.6 927.56,494.6 928.08,494.6 928.6,494.6 929.12,494.6 929.64,494.6 930.16,494.6 930.68,494.6 931.21,494.6 931.73,494.6 932.25,494.6 932.77,494.6 933.29,494.6 933.81,453.18 934.33,494.6 934.85,494.6 935.37,494.6 935.89,494.6 936.41,494.6 936.93,494.6 937.46,494.6 937.98,494.6 938.5,494.6 939.02,494.6 939.54,494.6 940.06,494.6 940.58,494.6 941.1,494.6 941.62,494.6 942.14,494.6 942.66,494.6 943.19,494.6 943.71,494.6 944.23,494.6 944.75,494.6 945.27,473.89 945.79,494.6 946.31,494.6 946.83,494.6 947.35,494.6 947.87,494.6 948.39,494.6 948.91,494.6 949.44,494.6 949.96,494.6 950.48,494.6 951,473.89 951.52,494.6 952.04,494.6 952.56,494.6 953.08,494.6 953.6,494.6 954.12,494.6 954.64,494.6 955.16,494.6 955.69,494.6 956.21,494.6 956.73,494.6 957.25,494.6 957.77,494.6 958.29,494.6 958.81,494.6 959.33,494.6 959.85,494.6 960.37,494.6 960.89,494.6 961.41,494.6 961.94,494.6 962.46,494.6 962.98,494.6 963.5,494.6 964.02,494.6 964.54,494.6 965.06,494.6 965.58,494.6 966.1,494.6 966.62,494.6 967.14,494.6 967.67,494.6 968.19,494.6 968.71,494.6 969.23,494.6 969.75,494.6 970.27,494.6 970.79,494.6 971.31,494.6 971.83,494.6 972.35,473.89 972.87,494.6 973.39,494.6 973.92,473.89 974.44,494.6 974.96,494.6 975.48,494.6 976,494.6 976.52,494.6 977.04,494.6 977.56,494.6 978.08,494.6 978.6,494.6 979.12,473.89 979.64,494.6 980.17,494.6 980.69,473.89 981.21,494.6 981.73,494.6 982.25,494.6 982.77,494.6 983.29,494.6 983.81,494.6 984.33,494.6 984.85,494.6 985.37,494.6 985.89,494.6 986.42,494.6 986.94,494.6 987.46,494.6 987.98,494.6 988.5,473.89 989.02,494.6 989.54,494.6 990.06,494.6 990.58,494.6 991.1,494.6 991.62,494.6 992.15,494.6 992.67,494.6 993.19,494.6 993.71,494.6 994.23,494.6 994.75,494.6 995.27,494.6 995.79,494.6 996.31,494.6 996.83,494.6 997.35,494.6 997.87,494.6 998.4,494.6 998.92,494.6 999.44,494.6 999.96,494.6 1000.48,494.6 1001,494.6 1001.52,494.6 1002.04,494.6 1002.56,494.6 1003.08,494.6 1003.6,494.6 1004.12,494.6 1004.65,494.6 1005.17,494.6 1005.69,473.89 1006.21,494.6 1006.73,494.6 1007.25,494.6 1007.77,494.6 1008.29,494.6 1008.81,494.6 1009.33,494.6 1009.85,494.6 1010.37,494.6 1010.9,494.6 1011.42,494.6 1011.94,494.6 1012.46,494.6 1012.98,453.18 1013.5,494.6 1014.02,494.6 1014.54,494.6 1015.06,494.6 1015.58,494.6 1016.1,494.6 1016.62,494.6 1017.15,494.6 1017.67,494.6 1018.19,494.6 1018.71,494.6 1019.23,473.89 1019.75,494.6 1020.27,494.6 1020.79,494.6 1021.31,494.6 1021.83,494.6 1022.35,494.6 1022.88,494.6 1023.4,494.6 1023.92,494.6 1024.44,494.6 1024.96,473.89 1025.48,494.6 1026,494.6 1026.52,494.6 1027.04,473.89 1027.56,494.6 1028.08,494.6 1028.6,494.6 1029.13,494.6 1029.65,494.6 1030.17,494.6 1030.69,494.6 1031.21,494.6 1031.73,494.6 1032.25,494.6 1032.77,494.6 1033.29,494.6 1033.81,494.6 1034.33,494.6 1034.85,494.6 1035.38,494.6 1035.9,494.6 1036.42,494.6 1036.94,494.6 1037.46,494.6 1037.98,494.6 1038.5,494.6 1039.02,494.6 1039.54,494.6 1040.06,494.6 1040.58,494.6 1041.1,494.6 1041.63,494.6 1042.15,494.6 1042.67,494.6 1043.19,473.89 1043.71,494.6 1044.23,494.6 1044.75,473.89 1045.27,494.6 1045.79,494.6 1046.31,473.89 1046.83,494.6 1047.36,494.6 1047.88,494.6 1048.4,494.6 1048.92,494.6 1049.44,494.6 1049.96,494.6 1050.48,494.6 1051,494.6 1051.52,494.6 1052.04,494.6 1052.56,494.6 1053.08,494.6 1053.61,494.6 1054.13,473.89 1054.65,494.6 1055.17,494.6 1055.69,494.6 1056.21,494.6 1056.73,494.6 1057.25,494.6 1057.77,494.6 1058.29,494.6 1058.81,494.6 1059.33,494.6 1059.86,494.6 1060.38,494.6 1060.9,494.6 1061.42,494.6 1061.94,494.6 1062.46,494.6 1062.98,494.6 1063.5,494.6 1064.02,473.89 1064.54,494.6 1065.06,494.6 1065.58,494.6 1066.11,473.89 1066.63,494.6 1067.15,494.6 1067.67,494.6 1068.19,494.6 1068.71,494.6 1069.23,494.6 1069.75,494.6 1070.27,494.6 1070.79,494.6 1071.31,494.6 1071.84,494.6 1072.36,494.6 1072.88,494.6 1073.4,494.6 1073.92,473.89 1074.44,494.6 1074.96,494.6 1075.48,494.6 1076,494.6 1076.52,494.6 1077.04,494.6 1077.56,494.6 1078.09,494.6 1078.61,494.6 1079.13,494.6 1079.65,494.6 1080.17,494.6 1080.69,494.6 1081.21,494.6 1081.73,494.6 1082.25,494.6 1082.77,453.18 1083.29,494.6 1083.81,494.6 1084.34,494.6 1084.86,494.6 1085.38,494.6 1085.9,494.6 1086.42,494.6 1086.94,494.6 1087.46,494.6 1087.98,494.6 1088.5,494.6 1089.02,494.6 1089.54,494.6 1090.06,494.6 1090.59,494.6 1091.11,494.6 1091.63,494.6 1092.15,494.6 1092.67,494.6 1093.19,494.6 1093.71,494.6 1094.23,494.6 1094.75,494.6 1095.27,494.6 1095.79,453.18 1096.32,494.6 1096.84,494.6 1097.36,494.6 1097.88,494.6 1098.4,494.6 1098.92,494.6 1099.44,494.6 1099.96,494.6 1100.48,494.6 1101,473.89 1101.52,494.6 1102.04,494.6 1102.57,494.6 1103.09,494.6 1103.61,494.6 1104.13,494.6 1104.65,494.6 1105.17,494.6 1105.69,494.6 1106.21,494.6 1106.73,494.6 1107.25,494.6 1107.77,494.6 1108.29,473.89 1108.82,494.6 1109.34,494.6 1109.86,494.6 1110.38,494.6 1110.9,494.6 1111.42,494.6 1111.94,494.6 1112.46,494.6 1112.98,494.6 1113.5,453.18 1114.02,494.6 1114.54,494.6 1115.07,494.6 1115.59,494.6 1116.11,494.6 1116.63,494.6 1117.15,494.6 1117.67,494.6 1118.19,473.89 1118.71,494.6 1119.23,494.6 1119.75,494.6 1120.27,494.6 1120.79,494.6 1121.32,494.6 1121.84,494.6 1122.36,494.6 1122.88,494.6 1123.4,494.6 1123.92,494.6 1124.44,494.6 1124.96,494.6 1125.48,494.6 1126,494.6 1126.52,494.6 1127.05,494.6 1127.57,473.89 1128.09,453.18 1128.61,473.89 1129.13,453.18 1129.65,473.89 1130.17,453.18 1130.69,473.89 1131.21,453.18 1131.73,473.89 1132.25,453.18 1132.77,473.89 1133.3,453.18 1133.82,473.89 1134.34,453.18 1134.86,432.47 1135.38,432.47 1135.9,469.75 1136.42,473.89 1136.94,461.46 1137.46,411.76 1137.98,432.47 1138.5,453.18 1139.02,473.89" fill="none" stroke="#000" stroke-width="2.46" stroke-linejoin="round" stroke-linecap="square"/>
<rect x="55.3" y="299" width="1135.2" height="204.8" fill="none" stroke="#222" stroke-width="1.5"/>
<line x1="187.8" y1="503.8" x2="187.8" y2="510.1" stroke="#222" stroke-width="1.6"/>
<text transform="translate(187.8 528.8) scale(1 1.05)" text-anchor="middle" font-size="17">2016</text>
<line x1="378.43" y1="503.8" x2="378.43" y2="510.1" stroke="#222" stroke-width="1.6"/>
<text transform="translate(378.43 528.8) scale(1 1.05)" text-anchor="middle" font-size="17">2017</text>
<line x1="568.54" y1="503.8" x2="568.54" y2="510.1" stroke="#222" stroke-width="1.6"/>
<text transform="translate(568.54 528.8) scale(1 1.05)" text-anchor="middle" font-size="17">2018</text>
<line x1="758.65" y1="503.8" x2="758.65" y2="510.1" stroke="#222" stroke-width="1.6"/>
<text transform="translate(758.65 528.8) scale(1 1.05)" text-anchor="middle" font-size="17">2019</text>
<line x1="948.76" y1="503.8" x2="948.76" y2="510.1" stroke="#222" stroke-width="1.6"/>
<text transform="translate(948.76 528.8) scale(1 1.05)" text-anchor="middle" font-size="17">2020</text>
<line x1="1139.39" y1="503.8" x2="1139.39" y2="510.1" stroke="#222" stroke-width="1.6"/>
<text transform="translate(1139.39 528.8) scale(1 1.05)" text-anchor="middle" font-size="17">2021</text>
<line x1="49" y1="494.6" x2="55.3" y2="494.6" stroke="#222" stroke-width="1.6"/>
<text transform="translate(43.8 501.3) scale(1 1.05)" text-anchor="end" font-size="17">0</text>
<line x1="49" y1="453.18" x2="55.3" y2="453.18" stroke="#222" stroke-width="1.6"/>
<text transform="translate(43.8 459.88) scale(1 1.05)" text-anchor="end" font-size="17">2</text>
<line x1="49" y1="411.76" x2="55.3" y2="411.76" stroke="#222" stroke-width="1.6"/>
<text transform="translate(43.8 418.46) scale(1 1.05)" text-anchor="end" font-size="17">4</text>
<line x1="49" y1="370.34" x2="55.3" y2="370.34" stroke="#222" stroke-width="1.6"/>
<text transform="translate(43.8 377.04) scale(1 1.05)" text-anchor="end" font-size="17">6</text>
<line x1="49" y1="328.92" x2="55.3" y2="328.92" stroke="#222" stroke-width="1.6"/>
<text transform="translate(43.8 335.62) scale(1 1.05)" text-anchor="end" font-size="17">8</text>
<text transform="translate(623 289.1) scale(1 1.03)" text-anchor="middle" font-size="20.05">ETH</text>
<text transform="translate(34 289.3) scale(1 1.03)" font-size="25">(b)</text>
<rect x="66.3" y="310" width="309.2" height="65.5" rx="3.9" ry="3.9" fill="#fff" fill-opacity="0.8" stroke="#ccc" stroke-opacity="0.8" stroke-width="1.64"/>
<line x1="73.6" y1="326.5" x2="114.8" y2="326.5" stroke="#000" stroke-width="2.46" stroke-linecap="square"/>
<text transform="translate(131.2 333.4) scale(1 1.03)" font-size="20.3">Address</text>
<g filter="url(#softp)"><rect x="75.34" y="351.24" width="37.42" height="10.52" fill="#708090" fill-opacity="0.5"/><rect x="73.7" y="349.6" width="40.7" height="13.8" fill="none" stroke="#708090" stroke-opacity="0.6" stroke-width="3.28"/></g>
<text transform="translate(131.2 364.2) scale(1 1.03)" font-size="20.3">Null Model: block delay</text>
</g>
<g id="panel-c">
<mask id="bm2" maskUnits="userSpaceOnUse" x="0" y="0" width="1200" height="823"><polygon points="107.04,760.55 107.04,737.29 133.3,737.29 158.71,737.29 184.97,737.29 210.38,737.29 236.64,737.29 262.9,737.29 286.62,737.29 312.87,714.03 338.29,737.29 364.54,737.29 389.96,737.29 416.21,737.29 442.47,737.29 467.88,737.29 494.14,737.29 519.55,737.29 545.81,737.29 572.07,737.29 595.79,737.29 622.05,737.29 647.46,737.29 673.72,737.29 699.13,737.29 725.39,737.29 751.65,737.29 777.06,737.29 803.32,737.29 828.73,737.29 854.99,737.29 881.25,737.29 905.81,737.29 932.07,737.29 957.48,737.29 983.74,737.29 1009.15,737.29 1035.41,737.29 1061.67,737.29 1087.08,737.29 1113.34,737.29 1138.75,737.29 1138.75,760.55" fill="#fff" stroke="#000" stroke-width="3.28" stroke-linejoin="round"/></mask>
<g filter="url(#soft)"><polygon points="107.04,760.55 107.04,737.29 133.3,737.29 158.71,737.29 184.97,737.29 210.38,737.29 236.64,737.29 262.9,737.29 286.62,737.29 312.87,714.03 338.29,737.29 364.54,737.29 389.96,737.29 416.21,737.29 442.47,737.29 467.88,737.29 494.14,737.29 519.55,737.29 545.81,737.29 572.07,737.29 595.79,737.29 622.05,737.29 647.46,737.29 673.72,737.29 699.13,737.29 725.39,737.29 751.65,737.29 777.06,737.29 803.32,737.29 828.73,737.29 854.99,737.29 881.25,737.29 905.81,737.29 932.07,737.29 957.48,737.29 983.74,737.29 1009.15,737.29 1035.41,737.29 1061.67,737.29 1087.08,737.29 1113.34,737.29 1138.75,737.29 1138.75,760.55" fill="#708090" fill-opacity="0.5" mask="url(#bm2)"/><polygon points="107.04,760.55 107.04,737.29 133.3,737.29 158.71,737.29 184.97,737.29 210.38,737.29 236.64,737.29 262.9,737.29 286.62,737.29 312.87,714.03 338.29,737.29 364.54,737.29 389.96,737.29 416.21,737.29 442.47,737.29 467.88,737.29 494.14,737.29 519.55,737.29 545.81,737.29 572.07,737.29 595.79,737.29 622.05,737.29 647.46,737.29 673.72,737.29 699.13,737.29 725.39,737.29 751.65,737.29 777.06,737.29 803.32,737.29 828.73,737.29 854.99,737.29 881.25,737.29 905.81,737.29 932.07,737.29 957.48,737.29 983.74,737.29 1009.15,737.29 1035.41,737.29 1061.67,737.29 1087.08,737.29 1113.34,737.29 1138.75,737.29 1138.75,760.55" fill="none" stroke="#708090" stroke-opacity="0.6" stroke-width="3.28" stroke-linejoin="round"/></g>
<polyline clip-path="url(#cc)" points="107.04,644.25 133.3,667.51 158.71,690.77 184.97,644.25 210.38,737.29 236.64,714.03 262.9,760.55 286.62,737.29 312.87,737.29 338.29,714.03 364.54,737.29 389.96,737.29 416.21,737.29 442.47,737.29 467.88,737.29 494.14,574.47 519.55,714.03 545.81,714.03 572.07,690.77 595.79,714.03 622.05,737.29 647.46,714.03 673.72,714.03 699.13,667.51 725.39,690.77 751.65,644.25 777.06,667.51 803.32,714.03 828.73,737.29 854.99,620.99 881.25,620.99 905.81,667.51 932.07,667.51 957.48,644.25 983.74,667.51 1009.15,667.51 1035.41,667.51 1061.67,667.51 1087.08,690.77 1113.34,667.51 1138.75,667.51" fill="none" stroke="#000" stroke-width="2.46" stroke-linejoin="round" stroke-linecap="square"/>
<polyline clip-path="url(#cc)" points="107.04,667.51 133.3,667.51 158.71,714.03 184.97,644.25 210.38,737.29 236.64,714.03 262.9,760.55 286.62,737.29 312.87,737.29 338.29,737.29 364.54,737.29 389.96,737.29 416.21,737.29 442.47,737.29 467.88,737.29 494.14,574.47 519.55,714.03 545.81,690.77 572.07,690.77 595.79,714.03 622.05,714.03 647.46,667.51 673.72,714.03 699.13,667.51 725.39,690.77 751.65,620.99 777.06,667.51 803.32,737.29 828.73,714.03 854.99,597.73 881.25,644.25 905.81,714.03 932.07,597.73 957.48,620.99 983.74,690.77 1009.15,620.99 1035.41,644.25 1061.67,667.51 1087.08,690.77 1113.34,667.51 1138.75,737.29" fill="none" stroke="#f00" stroke-width="1.95" stroke-linejoin="miter" stroke-miterlimit="6" stroke-dasharray="6.07 2.62"/>
<rect x="55.3" y="565" width="1135.2" height="204.6" fill="none" stroke="#222" stroke-width="1.5"/>
<line x1="133.3" y1="769.6" x2="133.3" y2="775.9" stroke="#222" stroke-width="1.6"/>
<text transform="translate(133.3 794.6) scale(1 1.05)" text-anchor="middle" font-size="17">2017-09</text>
<line x1="236.64" y1="769.6" x2="236.64" y2="775.9" stroke="#222" stroke-width="1.6"/>
<text transform="translate(236.64 794.6) scale(1 1.05)" text-anchor="middle" font-size="17">2018-01</text>
<line x1="338.29" y1="769.6" x2="338.29" y2="775.9" stroke="#222" stroke-width="1.6"/>
<text transform="translate(338.29 794.6) scale(1 1.05)" text-anchor="middle" font-size="17">2018-05</text>
<line x1="442.47" y1="769.6" x2="442.47" y2="775.9" stroke="#222" stroke-width="1.6"/>
<text transform="translate(442.47 794.6) scale(1 1.05)" text-anchor="middle" font-size="17">2018-09</text>
<line x1="545.81" y1="769.6" x2="545.81" y2="775.9" stroke="#222" stroke-width="1.6"/>
<text transform="translate(545.81 794.6) scale(1 1.05)" text-anchor="middle" font-size="17">2019-01</text>
<line x1="647.46" y1="769.6" x2="647.46" y2="775.9" stroke="#222" stroke-width="1.6"/>
<text transform="translate(647.46 794.6) scale(1 1.05)" text-anchor="middle" font-size="17">2019-05</text>
<line x1="751.65" y1="769.6" x2="751.65" y2="775.9" stroke="#222" stroke-width="1.6"/>
<text transform="translate(751.65 794.6) scale(1 1.05)" text-anchor="middle" font-size="17">2019-09</text>
<line x1="854.99" y1="769.6" x2="854.99" y2="775.9" stroke="#222" stroke-width="1.6"/>
<text transform="translate(854.99 794.6) scale(1 1.05)" text-anchor="middle" font-size="17">2020-01</text>
<line x1="957.48" y1="769.6" x2="957.48" y2="775.9" stroke="#222" stroke-width="1.6"/>
<text transform="translate(957.48 794.6) scale(1 1.05)" text-anchor="middle" font-size="17">2020-05</text>
<line x1="1061.67" y1="769.6" x2="1061.67" y2="775.9" stroke="#222" stroke-width="1.6"/>
<text transform="translate(1061.67 794.6) scale(1 1.05)" text-anchor="middle" font-size="17">2020-09</text>
<line x1="1165.01" y1="769.6" x2="1165.01" y2="775.9" stroke="#222" stroke-width="1.6"/>
<text transform="translate(1165.01 794.6) scale(1 1.05)" text-anchor="middle" font-size="17">2021-01</text>
<line x1="49" y1="760.55" x2="55.3" y2="760.55" stroke="#222" stroke-width="1.6"/>
<text transform="translate(43.8 767.25) scale(1 1.05)" text-anchor="end" font-size="17">0</text>
<line x1="49" y1="714.03" x2="55.3" y2="714.03" stroke="#222" stroke-width="1.6"/>
<text transform="translate(43.8 720.73) scale(1 1.05)" text-anchor="end" font-size="17">2</text>
<line x1="49" y1="667.51" x2="55.3" y2="667.51" stroke="#222" stroke-width="1.6"/>
<text transform="translate(43.8 674.21) scale(1 1.05)" text-anchor="end" font-size="17">4</text>
<line x1="49" y1="620.99" x2="55.3" y2="620.99" stroke="#222" stroke-width="1.6"/>
<text transform="translate(43.8 627.69) scale(1 1.05)" text-anchor="end" font-size="17">6</text>
<line x1="49" y1="574.47" x2="55.3" y2="574.47" stroke="#222" stroke-width="1.6"/>
<text transform="translate(43.8 581.17) scale(1 1.05)" text-anchor="end" font-size="17">8</text>
<text transform="translate(623 554.9) scale(1 1.03)" text-anchor="middle" font-size="20.05">BCH</text>
<text transform="translate(34 553.1) scale(1 1.03)" font-size="25">(c)</text>
<rect x="66.3" y="575" width="309.2" height="97.7" rx="3.9" ry="3.9" fill="#fff" fill-opacity="0.8" stroke="#ccc" stroke-opacity="0.8" stroke-width="1.64"/>
<line x1="73.6" y1="591.7" x2="114.8" y2="591.7" stroke="#000" stroke-width="2.46" stroke-linecap="square"/>
<text transform="translate(131.2 598.4) scale(1 1.03)" font-size="20.3">Address</text>
<line x1="73.9" y1="622.4" x2="114.8" y2="622.4" stroke="#f00" stroke-width="1.95" stroke-dasharray="6.07 2.62"/>
<text transform="translate(131.2 629.5) scale(1 1.03)" font-size="20.3">Cluster</text>
<g filter="url(#softp)"><rect x="75.34" y="646.74" width="37.42" height="10.52" fill="#708090" fill-opacity="0.5"/><rect x="73.7" y="645.1" width="40.7" height="13.8" fill="none" stroke="#708090" stroke-opacity="0.6" stroke-width="3.28"/></g>
<text transform="translate(131.2 659.7) scale(1 1.03)" font-size="20.3">Null Model: block delay</text>
<text transform="translate(622.5 821.2) scale(1 1.03)" text-anchor="middle" font-size="20.2">Period</text>
</g>
<text transform="translate(19.7 402.05) rotate(-90) scale(1 1.02)" text-anchor="middle" font-size="24.4">Num. of abnormal miners</text>
</svg></body></html>
